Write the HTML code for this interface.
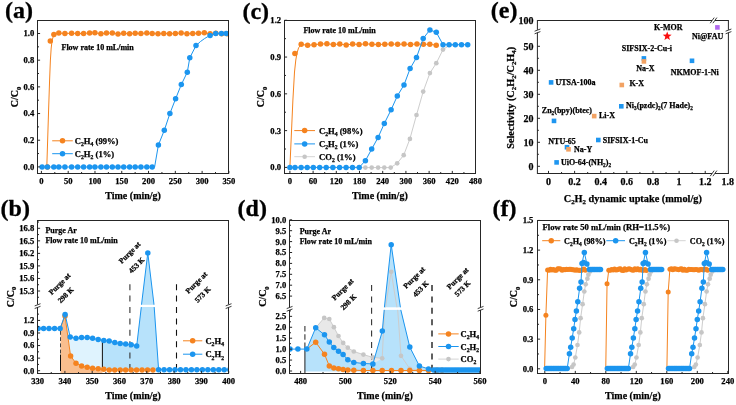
<!DOCTYPE html>
<html><head><meta charset="utf-8"><style>
html,body{margin:0;padding:0;background:#fff;}
svg{display:block;font-family:"Liberation Serif", serif;will-change:transform;}
</style></head><body>
<svg width="736" height="405" viewBox="0 0 736 405">
<defs><clipPath id="cA"><rect x="37.5" y="20.5" width="191" height="153"/></clipPath><clipPath id="cB"><rect x="37.5" y="220.5" width="191" height="153"/></clipPath><clipPath id="cC"><rect x="284.5" y="20.5" width="191" height="153"/></clipPath><clipPath id="cD"><rect x="289.5" y="220.5" width="191" height="153"/></clipPath><clipPath id="cF"><rect x="537.5" y="220.5" width="191" height="153"/></clipPath></defs>
<rect width="736" height="405" fill="#fff"/>
<g clip-path="url(#cA)">
<polyline points="46.8,167 48.6,110 49.6,80 50.4,60 51.2,48 52.2,40 53.9,34.5 58.8,33.09 64.9,33.45 71.6,33.24 77.7,33.52 83.6,33.55 89.6,32.88 94.9,32.82 100.9,33.8 106.5,33.11 112.3,33.08 118,33.99 123.7,33.36 129.6,33.8 135.2,33.37 140.9,33.57 146.8,32.98 152.2,33.56 157.99,33.84 163.78,33.43 169.57,33.69 175.36,33.61 181.15,32.88 186.94,33.71 192.73,33.51 198.52,33.16 204.31,32.84 210.1,33.84 215.89,33.37 221.68,33.66 227.47,33.85" fill="none" stroke="#f5831f" stroke-width="1.0" stroke-linejoin="round"/>
<circle cx="47.4" cy="167" r="2.75" fill="#f5831f"/>
<circle cx="50.3" cy="41.1" r="2.75" fill="#f5831f"/>
<circle cx="53.9" cy="34.5" r="2.75" fill="#f5831f"/>
<circle cx="58.8" cy="33.09" r="2.75" fill="#f5831f"/>
<circle cx="64.9" cy="33.45" r="2.75" fill="#f5831f"/>
<circle cx="71.6" cy="33.24" r="2.75" fill="#f5831f"/>
<circle cx="77.7" cy="33.52" r="2.75" fill="#f5831f"/>
<circle cx="83.6" cy="33.55" r="2.75" fill="#f5831f"/>
<circle cx="89.6" cy="32.88" r="2.75" fill="#f5831f"/>
<circle cx="94.9" cy="32.82" r="2.75" fill="#f5831f"/>
<circle cx="100.9" cy="33.8" r="2.75" fill="#f5831f"/>
<circle cx="106.5" cy="33.11" r="2.75" fill="#f5831f"/>
<circle cx="112.3" cy="33.08" r="2.75" fill="#f5831f"/>
<circle cx="118" cy="33.99" r="2.75" fill="#f5831f"/>
<circle cx="123.7" cy="33.36" r="2.75" fill="#f5831f"/>
<circle cx="129.6" cy="33.8" r="2.75" fill="#f5831f"/>
<circle cx="135.2" cy="33.37" r="2.75" fill="#f5831f"/>
<circle cx="140.9" cy="33.57" r="2.75" fill="#f5831f"/>
<circle cx="146.8" cy="32.98" r="2.75" fill="#f5831f"/>
<circle cx="152.2" cy="33.56" r="2.75" fill="#f5831f"/>
<circle cx="157.99" cy="33.84" r="2.75" fill="#f5831f"/>
<circle cx="163.78" cy="33.43" r="2.75" fill="#f5831f"/>
<circle cx="169.57" cy="33.69" r="2.75" fill="#f5831f"/>
<circle cx="175.36" cy="33.61" r="2.75" fill="#f5831f"/>
<circle cx="181.15" cy="32.88" r="2.75" fill="#f5831f"/>
<circle cx="186.94" cy="33.71" r="2.75" fill="#f5831f"/>
<circle cx="192.73" cy="33.51" r="2.75" fill="#f5831f"/>
<circle cx="198.52" cy="33.16" r="2.75" fill="#f5831f"/>
<circle cx="204.31" cy="32.84" r="2.75" fill="#f5831f"/>
<circle cx="210.1" cy="33.84" r="2.75" fill="#f5831f"/>
<circle cx="215.89" cy="33.37" r="2.75" fill="#f5831f"/>
<circle cx="221.68" cy="33.66" r="2.75" fill="#f5831f"/>
<circle cx="227.47" cy="33.85" r="2.75" fill="#f5831f"/>
<polyline points="42.1,167 47.4,167 53.8,167 58.8,167 64.9,167 71.6,167 77.7,167 83.6,167 89.6,167 94.9,167 100.9,167 106.5,167 112.3,167 118,167 123.7,167 129.6,167 135.2,167 140.9,167 146.8,167 152.2,167 154.6,167 158.4,145 164.3,130.3 169.9,113.5 175.6,98.8 181.3,84.6 187.3,72.2 189.8,57.7 196,45.6 200.5,41.5 204.5,38.6 207.5,36.8 210.1,35.5 215.7,33.6 221.4,33.4 226.2,33.4" fill="none" stroke="#1b95ef" stroke-width="1.0" stroke-linejoin="round"/>
<circle cx="42.1" cy="167" r="2.75" fill="#1b95ef"/>
<circle cx="47.4" cy="167" r="2.75" fill="#1b95ef"/>
<circle cx="53.8" cy="167" r="2.75" fill="#1b95ef"/>
<circle cx="58.8" cy="167" r="2.75" fill="#1b95ef"/>
<circle cx="64.9" cy="167" r="2.75" fill="#1b95ef"/>
<circle cx="71.6" cy="167" r="2.75" fill="#1b95ef"/>
<circle cx="77.7" cy="167" r="2.75" fill="#1b95ef"/>
<circle cx="83.6" cy="167" r="2.75" fill="#1b95ef"/>
<circle cx="89.6" cy="167" r="2.75" fill="#1b95ef"/>
<circle cx="94.9" cy="167" r="2.75" fill="#1b95ef"/>
<circle cx="100.9" cy="167" r="2.75" fill="#1b95ef"/>
<circle cx="106.5" cy="167" r="2.75" fill="#1b95ef"/>
<circle cx="112.3" cy="167" r="2.75" fill="#1b95ef"/>
<circle cx="118" cy="167" r="2.75" fill="#1b95ef"/>
<circle cx="123.7" cy="167" r="2.75" fill="#1b95ef"/>
<circle cx="129.6" cy="167" r="2.75" fill="#1b95ef"/>
<circle cx="135.2" cy="167" r="2.75" fill="#1b95ef"/>
<circle cx="140.9" cy="167" r="2.75" fill="#1b95ef"/>
<circle cx="146.8" cy="167" r="2.75" fill="#1b95ef"/>
<circle cx="152.2" cy="167" r="2.75" fill="#1b95ef"/>
<circle cx="158.4" cy="145" r="2.75" fill="#1b95ef"/>
<circle cx="164.3" cy="130.3" r="2.75" fill="#1b95ef"/>
<circle cx="169.9" cy="113.5" r="2.75" fill="#1b95ef"/>
<circle cx="175.6" cy="98.8" r="2.75" fill="#1b95ef"/>
<circle cx="181.3" cy="84.6" r="2.75" fill="#1b95ef"/>
<circle cx="187.3" cy="72.2" r="2.75" fill="#1b95ef"/>
<circle cx="189.8" cy="57.7" r="2.75" fill="#1b95ef"/>
<circle cx="196" cy="45.6" r="2.75" fill="#1b95ef"/>
<circle cx="210.1" cy="35.5" r="2.75" fill="#1b95ef"/>
<circle cx="215.7" cy="33.6" r="2.75" fill="#1b95ef"/>
<circle cx="221.4" cy="33.4" r="2.75" fill="#1b95ef"/>
<circle cx="226.2" cy="33.4" r="2.75" fill="#1b95ef"/>
</g>
<line x1="37.5" y1="20.5" x2="228.5" y2="20.5" stroke="#262626" stroke-width="1.0" stroke-linecap="butt"/>
<line x1="37.5" y1="173.5" x2="228.5" y2="173.5" stroke="#262626" stroke-width="1.0" stroke-linecap="butt"/>
<line x1="37.5" y1="20" x2="37.5" y2="174" stroke="#262626" stroke-width="1.0" stroke-linecap="butt"/>
<line x1="228.5" y1="20" x2="228.5" y2="174" stroke="#262626" stroke-width="1.0" stroke-linecap="butt"/>
<line x1="41.4" y1="173.5" x2="41.4" y2="170.9" stroke="#262626" stroke-width="1.0" stroke-linecap="butt"/>
<line x1="68.19" y1="173.5" x2="68.19" y2="170.9" stroke="#262626" stroke-width="1.0" stroke-linecap="butt"/>
<line x1="94.97" y1="173.5" x2="94.97" y2="170.9" stroke="#262626" stroke-width="1.0" stroke-linecap="butt"/>
<line x1="121.75" y1="173.5" x2="121.75" y2="170.9" stroke="#262626" stroke-width="1.0" stroke-linecap="butt"/>
<line x1="148.54" y1="173.5" x2="148.54" y2="170.9" stroke="#262626" stroke-width="1.0" stroke-linecap="butt"/>
<line x1="175.32" y1="173.5" x2="175.32" y2="170.9" stroke="#262626" stroke-width="1.0" stroke-linecap="butt"/>
<line x1="202.11" y1="173.5" x2="202.11" y2="170.9" stroke="#262626" stroke-width="1.0" stroke-linecap="butt"/>
<line x1="228.89" y1="173.5" x2="228.89" y2="170.9" stroke="#262626" stroke-width="1.0" stroke-linecap="butt"/>
<line x1="54.79" y1="173.5" x2="54.79" y2="172" stroke="#262626" stroke-width="1.0" stroke-linecap="butt"/>
<line x1="81.58" y1="173.5" x2="81.58" y2="172" stroke="#262626" stroke-width="1.0" stroke-linecap="butt"/>
<line x1="108.36" y1="173.5" x2="108.36" y2="172" stroke="#262626" stroke-width="1.0" stroke-linecap="butt"/>
<line x1="135.15" y1="173.5" x2="135.15" y2="172" stroke="#262626" stroke-width="1.0" stroke-linecap="butt"/>
<line x1="161.93" y1="173.5" x2="161.93" y2="172" stroke="#262626" stroke-width="1.0" stroke-linecap="butt"/>
<line x1="188.72" y1="173.5" x2="188.72" y2="172" stroke="#262626" stroke-width="1.0" stroke-linecap="butt"/>
<line x1="215.5" y1="173.5" x2="215.5" y2="172" stroke="#262626" stroke-width="1.0" stroke-linecap="butt"/>
<line x1="37.5" y1="166.9" x2="40.1" y2="166.9" stroke="#262626" stroke-width="1.0" stroke-linecap="butt"/>
<line x1="37.5" y1="140.22" x2="40.1" y2="140.22" stroke="#262626" stroke-width="1.0" stroke-linecap="butt"/>
<line x1="37.5" y1="113.54" x2="40.1" y2="113.54" stroke="#262626" stroke-width="1.0" stroke-linecap="butt"/>
<line x1="37.5" y1="86.86" x2="40.1" y2="86.86" stroke="#262626" stroke-width="1.0" stroke-linecap="butt"/>
<line x1="37.5" y1="60.18" x2="40.1" y2="60.18" stroke="#262626" stroke-width="1.0" stroke-linecap="butt"/>
<line x1="37.5" y1="33.5" x2="40.1" y2="33.5" stroke="#262626" stroke-width="1.0" stroke-linecap="butt"/>
<line x1="37.5" y1="153.56" x2="39" y2="153.56" stroke="#262626" stroke-width="1.0" stroke-linecap="butt"/>
<line x1="37.5" y1="126.88" x2="39" y2="126.88" stroke="#262626" stroke-width="1.0" stroke-linecap="butt"/>
<line x1="37.5" y1="100.2" x2="39" y2="100.2" stroke="#262626" stroke-width="1.0" stroke-linecap="butt"/>
<line x1="37.5" y1="73.52" x2="39" y2="73.52" stroke="#262626" stroke-width="1.0" stroke-linecap="butt"/>
<line x1="37.5" y1="46.84" x2="39" y2="46.84" stroke="#262626" stroke-width="1.0" stroke-linecap="butt"/>
<text x="41.4" y="183.7" font-size="8.6" text-anchor="middle" font-weight="bold" fill="#000" stroke="#000" stroke-width="0.25">0</text>
<text x="68.19" y="183.7" font-size="8.6" text-anchor="middle" font-weight="bold" fill="#000" stroke="#000" stroke-width="0.25">50</text>
<text x="94.97" y="183.7" font-size="8.6" text-anchor="middle" font-weight="bold" fill="#000" stroke="#000" stroke-width="0.25">100</text>
<text x="121.75" y="183.7" font-size="8.6" text-anchor="middle" font-weight="bold" fill="#000" stroke="#000" stroke-width="0.25">150</text>
<text x="148.54" y="183.7" font-size="8.6" text-anchor="middle" font-weight="bold" fill="#000" stroke="#000" stroke-width="0.25">200</text>
<text x="175.32" y="183.7" font-size="8.6" text-anchor="middle" font-weight="bold" fill="#000" stroke="#000" stroke-width="0.25">250</text>
<text x="202.11" y="183.7" font-size="8.6" text-anchor="middle" font-weight="bold" fill="#000" stroke="#000" stroke-width="0.25">300</text>
<text x="228.89" y="183.7" font-size="8.6" text-anchor="middle" font-weight="bold" fill="#000" stroke="#000" stroke-width="0.25">350</text>
<text x="34.3" y="169.82" font-size="8.6" text-anchor="end" font-weight="bold" fill="#000" stroke="#000" stroke-width="0.25">0.0</text>
<text x="34.3" y="143.14" font-size="8.6" text-anchor="end" font-weight="bold" fill="#000" stroke="#000" stroke-width="0.25">0.2</text>
<text x="34.3" y="116.46" font-size="8.6" text-anchor="end" font-weight="bold" fill="#000" stroke="#000" stroke-width="0.25">0.4</text>
<text x="34.3" y="89.78" font-size="8.6" text-anchor="end" font-weight="bold" fill="#000" stroke="#000" stroke-width="0.25">0.6</text>
<text x="34.3" y="63.1" font-size="8.6" text-anchor="end" font-weight="bold" fill="#000" stroke="#000" stroke-width="0.25">0.8</text>
<text x="34.3" y="36.42" font-size="8.6" text-anchor="end" font-weight="bold" fill="#000" stroke="#000" stroke-width="0.25">1.0</text>
<text x="133.1" y="199.1" font-size="10" text-anchor="middle" font-weight="bold" fill="#000" stroke="#000" stroke-width="0.25">Time (min/g)</text>
<text x="17.9" y="96.9" font-size="10" text-anchor="middle" font-weight="bold" fill="#000" stroke="#000" stroke-width="0.25" transform="rotate(-90 17.9 96.9)">C/C<tspan font-size="6.6" dy="2.7">0</tspan><tspan dy="-2.7">​</tspan></text>
<text x="5" y="18" font-size="24" text-anchor="start" font-weight="bold" fill="#000" stroke="#000" stroke-width="0.3">(a)</text>
<text x="61.5" y="50.2" font-size="8" text-anchor="start" font-weight="bold" fill="#000" stroke="#000" stroke-width="0.25">Flow rate 10 mL/min</text>
<line x1="52.2" y1="140.8" x2="72.8" y2="140.8" stroke="#f5831f" stroke-width="1.0" stroke-linecap="butt"/>
<circle cx="62.5" cy="140.8" r="2.75" fill="#f5831f"/>
<text x="74.8" y="143.8" font-size="8.6" text-anchor="start" font-weight="bold" fill="#000" stroke="#000" stroke-width="0.25">C<tspan font-size="5.68" dy="2.32">2</tspan><tspan dy="-2.32">​</tspan>H<tspan font-size="5.68" dy="2.32">4</tspan><tspan dy="-2.32">​</tspan> (99%)</text>
<line x1="52.2" y1="153.7" x2="72.8" y2="153.7" stroke="#1b95ef" stroke-width="1.0" stroke-linecap="butt"/>
<circle cx="62.5" cy="153.7" r="2.75" fill="#1b95ef"/>
<text x="74.8" y="156.7" font-size="8.6" text-anchor="start" font-weight="bold" fill="#000" stroke="#000" stroke-width="0.25">C<tspan font-size="5.68" dy="2.32">2</tspan><tspan dy="-2.32">​</tspan>H<tspan font-size="5.68" dy="2.32">2</tspan><tspan dy="-2.32">​</tspan> (1%)</text>
<g clip-path="url(#cB)">
<polygon points="60.5,372.9 60.5,328.6 65,316 70.6,356 76,363.2 81.6,365.9 87.2,367.3 92.6,368.2 98.2,368.8 102.4,369.2 102.4,372.9" fill="#f9be8e" stroke="none"/>
<polygon points="65.1,314.4 70.2,337 76,338.3 81.6,337.6 87.2,337.6 92.6,338.3 98.2,339.6 102.4,340.2 102.4,369.2 98.2,368.8 92.6,368.2 87.2,367.3 81.6,365.9 76,363.2 70.6,356 65,316" fill="#dff3fe" stroke="none"/>
<polygon points="102.4,340.2 103.8,340.4 109.2,341.1 114.8,342.6 120.2,343.4 125.7,344.1 131.2,344.7 136.7,345.9 141.3,305.9 147.8,252.9 154.2,305.9 158.6,369.7 158.6,370.5 102.4,370.5" fill="#b7e2fb" stroke="none"/>
<rect x="139" y="304.8" width="18" height="2.2" fill="#fff"/>
<line x1="60.5" y1="331" x2="60.5" y2="354.6" stroke="#444" stroke-width="1.0" stroke-linecap="butt" stroke-dasharray="3.8,2.4"/>
<line x1="60.5" y1="354.6" x2="60.5" y2="371" stroke="#111" stroke-width="1.0" stroke-linecap="butt"/>
<line x1="102.4" y1="340.2" x2="102.4" y2="370.8" stroke="#111" stroke-width="1.0" stroke-linecap="butt"/>
<line x1="129.9" y1="284.2" x2="129.9" y2="372.9" stroke="#333" stroke-width="1.1" stroke-linecap="butt" stroke-dasharray="6,5.4"/>
<line x1="176.5" y1="284.2" x2="176.5" y2="372.9" stroke="#111" stroke-width="1.1" stroke-linecap="butt" stroke-dasharray="6,5.4"/>
<polyline points="60.1,328.6 65,316 70.6,356 76,363.2 81.6,365.9 87.2,367.3 92.6,368.2 98.2,368.8 103.8,369.3 109.26,369.9 114.72,369.9 120.18,369.9 125.64,369.9 131.1,369.9 136.56,369.9 142.02,369.9 147.48,369.9 152.94,369.9" fill="none" stroke="#f5831f" stroke-width="1.0" stroke-linejoin="round"/>
<circle cx="65" cy="316" r="2.75" fill="#f5831f"/>
<circle cx="70.6" cy="356" r="2.75" fill="#f5831f"/>
<circle cx="76" cy="363.2" r="2.75" fill="#f5831f"/>
<circle cx="81.6" cy="365.9" r="2.75" fill="#f5831f"/>
<circle cx="87.2" cy="367.3" r="2.75" fill="#f5831f"/>
<circle cx="92.6" cy="368.2" r="2.75" fill="#f5831f"/>
<circle cx="98.2" cy="368.8" r="2.75" fill="#f5831f"/>
<circle cx="103.8" cy="369.3" r="2.75" fill="#f5831f"/>
<circle cx="109.26" cy="369.9" r="2.75" fill="#f5831f"/>
<circle cx="114.72" cy="369.9" r="2.75" fill="#f5831f"/>
<circle cx="120.18" cy="369.9" r="2.75" fill="#f5831f"/>
<circle cx="125.64" cy="369.9" r="2.75" fill="#f5831f"/>
<circle cx="131.1" cy="369.9" r="2.75" fill="#f5831f"/>
<circle cx="136.56" cy="369.9" r="2.75" fill="#f5831f"/>
<circle cx="142.02" cy="369.9" r="2.75" fill="#f5831f"/>
<circle cx="147.48" cy="369.9" r="2.75" fill="#f5831f"/>
<circle cx="152.94" cy="369.9" r="2.75" fill="#f5831f"/>
<polyline points="38.2,328.6 43.6,328.6 49,328.6 54.6,328.6 60.1,328.6 65.1,314.4 70.2,337 76,338.3 81.6,337.6 87.2,337.6 92.6,338.3 98.2,339.6 103.8,340.4 109.2,341.1 114.8,342.6 120.2,343.4 125.7,344.1 131.2,344.7 136.7,345.9 141.3,307.1" fill="none" stroke="#1b95ef" stroke-width="1.0" stroke-linejoin="round"/>
<polyline points="141.5,304.7 147.8,252.9 154,304.7" fill="none" stroke="#1b95ef" stroke-width="1.0" stroke-linejoin="round"/>
<polyline points="154.2,307.1 158.6,369.7 164.07,369.7 169.54,369.7 175.01,369.7 180.48,369.7 185.95,369.7 191.42,369.7 196.89,369.7 202.36,369.7 207.83,369.7 213.3,369.7 218.77,369.7 224.24,369.7 229.71,369.7" fill="none" stroke="#1b95ef" stroke-width="1.0" stroke-linejoin="round"/>
<circle cx="38.2" cy="328.6" r="2.75" fill="#1b95ef"/>
<circle cx="43.6" cy="328.6" r="2.75" fill="#1b95ef"/>
<circle cx="49" cy="328.6" r="2.75" fill="#1b95ef"/>
<circle cx="54.6" cy="328.6" r="2.75" fill="#1b95ef"/>
<circle cx="60.1" cy="328.6" r="2.75" fill="#1b95ef"/>
<circle cx="65.1" cy="314.4" r="2.75" fill="#1b95ef"/>
<circle cx="70.2" cy="337" r="2.75" fill="#1b95ef"/>
<circle cx="76" cy="338.3" r="2.75" fill="#1b95ef"/>
<circle cx="81.6" cy="337.6" r="2.75" fill="#1b95ef"/>
<circle cx="87.2" cy="337.6" r="2.75" fill="#1b95ef"/>
<circle cx="92.6" cy="338.3" r="2.75" fill="#1b95ef"/>
<circle cx="98.2" cy="339.6" r="2.75" fill="#1b95ef"/>
<circle cx="103.8" cy="340.4" r="2.75" fill="#1b95ef"/>
<circle cx="109.2" cy="341.1" r="2.75" fill="#1b95ef"/>
<circle cx="114.8" cy="342.6" r="2.75" fill="#1b95ef"/>
<circle cx="120.2" cy="343.4" r="2.75" fill="#1b95ef"/>
<circle cx="125.7" cy="344.1" r="2.75" fill="#1b95ef"/>
<circle cx="131.2" cy="344.7" r="2.75" fill="#1b95ef"/>
<circle cx="136.7" cy="345.9" r="2.75" fill="#1b95ef"/>
<circle cx="147.8" cy="252.9" r="2.75" fill="#1b95ef"/>
<circle cx="158.6" cy="369.7" r="2.75" fill="#1b95ef"/>
<circle cx="164.07" cy="369.7" r="2.75" fill="#1b95ef"/>
<circle cx="169.54" cy="369.7" r="2.75" fill="#1b95ef"/>
<circle cx="175.01" cy="369.7" r="2.75" fill="#1b95ef"/>
<circle cx="180.48" cy="369.7" r="2.75" fill="#1b95ef"/>
<circle cx="185.95" cy="369.7" r="2.75" fill="#1b95ef"/>
<circle cx="191.42" cy="369.7" r="2.75" fill="#1b95ef"/>
<circle cx="196.89" cy="369.7" r="2.75" fill="#1b95ef"/>
<circle cx="202.36" cy="369.7" r="2.75" fill="#1b95ef"/>
<circle cx="207.83" cy="369.7" r="2.75" fill="#1b95ef"/>
<circle cx="213.3" cy="369.7" r="2.75" fill="#1b95ef"/>
<circle cx="218.77" cy="369.7" r="2.75" fill="#1b95ef"/>
<circle cx="224.24" cy="369.7" r="2.75" fill="#1b95ef"/>
<circle cx="229.71" cy="369.7" r="2.75" fill="#1b95ef"/>
</g>
<line x1="37.5" y1="220.5" x2="228.5" y2="220.5" stroke="#262626" stroke-width="1.0" stroke-linecap="butt"/>
<line x1="37.5" y1="373.5" x2="228.5" y2="373.5" stroke="#262626" stroke-width="1.0" stroke-linecap="butt"/>
<line x1="37.5" y1="220" x2="37.5" y2="304.6" stroke="#262626" stroke-width="1.0" stroke-linecap="butt"/>
<line x1="37.5" y1="307.2" x2="37.5" y2="374" stroke="#262626" stroke-width="1.0" stroke-linecap="butt"/>
<line x1="228.5" y1="220" x2="228.5" y2="304.6" stroke="#262626" stroke-width="1.0" stroke-linecap="butt"/>
<line x1="228.5" y1="307.2" x2="228.5" y2="374" stroke="#262626" stroke-width="1.0" stroke-linecap="butt"/>
<rect x="34.5" y="304.7" width="6" height="2.4" fill="#fff"/>
<line x1="34.7" y1="305.9" x2="40.5" y2="303.7" stroke="#262626" stroke-width="0.9" stroke-linecap="butt"/>
<line x1="34.7" y1="308.5" x2="40.5" y2="306.3" stroke="#262626" stroke-width="0.9" stroke-linecap="butt"/>
<rect x="225.5" y="304.7" width="6" height="2.4" fill="#fff"/>
<line x1="225.7" y1="305.9" x2="231.5" y2="303.7" stroke="#262626" stroke-width="0.9" stroke-linecap="butt"/>
<line x1="225.7" y1="308.5" x2="231.5" y2="306.3" stroke="#262626" stroke-width="0.9" stroke-linecap="butt"/>
<line x1="37.6" y1="373.5" x2="37.6" y2="370.9" stroke="#262626" stroke-width="1.0" stroke-linecap="butt"/>
<line x1="64.9" y1="373.5" x2="64.9" y2="370.9" stroke="#262626" stroke-width="1.0" stroke-linecap="butt"/>
<line x1="92.2" y1="373.5" x2="92.2" y2="370.9" stroke="#262626" stroke-width="1.0" stroke-linecap="butt"/>
<line x1="119.5" y1="373.5" x2="119.5" y2="370.9" stroke="#262626" stroke-width="1.0" stroke-linecap="butt"/>
<line x1="146.8" y1="373.5" x2="146.8" y2="370.9" stroke="#262626" stroke-width="1.0" stroke-linecap="butt"/>
<line x1="174.1" y1="373.5" x2="174.1" y2="370.9" stroke="#262626" stroke-width="1.0" stroke-linecap="butt"/>
<line x1="201.4" y1="373.5" x2="201.4" y2="370.9" stroke="#262626" stroke-width="1.0" stroke-linecap="butt"/>
<line x1="228.7" y1="373.5" x2="228.7" y2="370.9" stroke="#262626" stroke-width="1.0" stroke-linecap="butt"/>
<line x1="51.25" y1="373.5" x2="51.25" y2="372" stroke="#262626" stroke-width="1.0" stroke-linecap="butt"/>
<line x1="78.55" y1="373.5" x2="78.55" y2="372" stroke="#262626" stroke-width="1.0" stroke-linecap="butt"/>
<line x1="105.85" y1="373.5" x2="105.85" y2="372" stroke="#262626" stroke-width="1.0" stroke-linecap="butt"/>
<line x1="133.15" y1="373.5" x2="133.15" y2="372" stroke="#262626" stroke-width="1.0" stroke-linecap="butt"/>
<line x1="160.45" y1="373.5" x2="160.45" y2="372" stroke="#262626" stroke-width="1.0" stroke-linecap="butt"/>
<line x1="187.75" y1="373.5" x2="187.75" y2="372" stroke="#262626" stroke-width="1.0" stroke-linecap="butt"/>
<line x1="215.05" y1="373.5" x2="215.05" y2="372" stroke="#262626" stroke-width="1.0" stroke-linecap="butt"/>
<line x1="37.5" y1="291" x2="40.1" y2="291" stroke="#262626" stroke-width="1.0" stroke-linecap="butt"/>
<line x1="37.5" y1="278.46" x2="40.1" y2="278.46" stroke="#262626" stroke-width="1.0" stroke-linecap="butt"/>
<line x1="37.5" y1="265.92" x2="40.1" y2="265.92" stroke="#262626" stroke-width="1.0" stroke-linecap="butt"/>
<line x1="37.5" y1="253.38" x2="40.1" y2="253.38" stroke="#262626" stroke-width="1.0" stroke-linecap="butt"/>
<line x1="37.5" y1="240.84" x2="40.1" y2="240.84" stroke="#262626" stroke-width="1.0" stroke-linecap="butt"/>
<line x1="37.5" y1="228.3" x2="40.1" y2="228.3" stroke="#262626" stroke-width="1.0" stroke-linecap="butt"/>
<line x1="37.5" y1="297.27" x2="39" y2="297.27" stroke="#262626" stroke-width="1.0" stroke-linecap="butt"/>
<line x1="37.5" y1="284.73" x2="39" y2="284.73" stroke="#262626" stroke-width="1.0" stroke-linecap="butt"/>
<line x1="37.5" y1="272.19" x2="39" y2="272.19" stroke="#262626" stroke-width="1.0" stroke-linecap="butt"/>
<line x1="37.5" y1="259.65" x2="39" y2="259.65" stroke="#262626" stroke-width="1.0" stroke-linecap="butt"/>
<line x1="37.5" y1="247.11" x2="39" y2="247.11" stroke="#262626" stroke-width="1.0" stroke-linecap="butt"/>
<line x1="37.5" y1="234.57" x2="39" y2="234.57" stroke="#262626" stroke-width="1.0" stroke-linecap="butt"/>
<line x1="37.5" y1="222.03" x2="39" y2="222.03" stroke="#262626" stroke-width="1.0" stroke-linecap="butt"/>
<line x1="37.5" y1="370.7" x2="40.1" y2="370.7" stroke="#262626" stroke-width="1.0" stroke-linecap="butt"/>
<line x1="37.5" y1="358.13" x2="40.1" y2="358.13" stroke="#262626" stroke-width="1.0" stroke-linecap="butt"/>
<line x1="37.5" y1="345.56" x2="40.1" y2="345.56" stroke="#262626" stroke-width="1.0" stroke-linecap="butt"/>
<line x1="37.5" y1="332.99" x2="40.1" y2="332.99" stroke="#262626" stroke-width="1.0" stroke-linecap="butt"/>
<line x1="37.5" y1="320.42" x2="40.1" y2="320.42" stroke="#262626" stroke-width="1.0" stroke-linecap="butt"/>
<line x1="37.5" y1="364.41" x2="39" y2="364.41" stroke="#262626" stroke-width="1.0" stroke-linecap="butt"/>
<line x1="37.5" y1="351.84" x2="39" y2="351.84" stroke="#262626" stroke-width="1.0" stroke-linecap="butt"/>
<line x1="37.5" y1="339.27" x2="39" y2="339.27" stroke="#262626" stroke-width="1.0" stroke-linecap="butt"/>
<line x1="37.5" y1="326.7" x2="39" y2="326.7" stroke="#262626" stroke-width="1.0" stroke-linecap="butt"/>
<line x1="37.5" y1="314.13" x2="39" y2="314.13" stroke="#262626" stroke-width="1.0" stroke-linecap="butt"/>
<text x="37.6" y="384" font-size="8.6" text-anchor="middle" font-weight="bold" fill="#000" stroke="#000" stroke-width="0.25">330</text>
<text x="64.9" y="384" font-size="8.6" text-anchor="middle" font-weight="bold" fill="#000" stroke="#000" stroke-width="0.25">340</text>
<text x="92.2" y="384" font-size="8.6" text-anchor="middle" font-weight="bold" fill="#000" stroke="#000" stroke-width="0.25">350</text>
<text x="119.5" y="384" font-size="8.6" text-anchor="middle" font-weight="bold" fill="#000" stroke="#000" stroke-width="0.25">360</text>
<text x="146.8" y="384" font-size="8.6" text-anchor="middle" font-weight="bold" fill="#000" stroke="#000" stroke-width="0.25">370</text>
<text x="174.1" y="384" font-size="8.6" text-anchor="middle" font-weight="bold" fill="#000" stroke="#000" stroke-width="0.25">380</text>
<text x="201.4" y="384" font-size="8.6" text-anchor="middle" font-weight="bold" fill="#000" stroke="#000" stroke-width="0.25">390</text>
<text x="228.7" y="384" font-size="8.6" text-anchor="middle" font-weight="bold" fill="#000" stroke="#000" stroke-width="0.25">400</text>
<text x="34.3" y="293.92" font-size="8.6" text-anchor="end" font-weight="bold" fill="#000" stroke="#000" stroke-width="0.25">15.3</text>
<text x="34.3" y="281.38" font-size="8.6" text-anchor="end" font-weight="bold" fill="#000" stroke="#000" stroke-width="0.25">15.6</text>
<text x="34.3" y="268.84" font-size="8.6" text-anchor="end" font-weight="bold" fill="#000" stroke="#000" stroke-width="0.25">15.9</text>
<text x="34.3" y="256.3" font-size="8.6" text-anchor="end" font-weight="bold" fill="#000" stroke="#000" stroke-width="0.25">16.2</text>
<text x="34.3" y="243.76" font-size="8.6" text-anchor="end" font-weight="bold" fill="#000" stroke="#000" stroke-width="0.25">16.5</text>
<text x="34.3" y="231.22" font-size="8.6" text-anchor="end" font-weight="bold" fill="#000" stroke="#000" stroke-width="0.25">16.8</text>
<text x="34.3" y="373.62" font-size="8.6" text-anchor="end" font-weight="bold" fill="#000" stroke="#000" stroke-width="0.25">0.0</text>
<text x="34.3" y="361.05" font-size="8.6" text-anchor="end" font-weight="bold" fill="#000" stroke="#000" stroke-width="0.25">0.3</text>
<text x="34.3" y="348.48" font-size="8.6" text-anchor="end" font-weight="bold" fill="#000" stroke="#000" stroke-width="0.25">0.6</text>
<text x="34.3" y="335.91" font-size="8.6" text-anchor="end" font-weight="bold" fill="#000" stroke="#000" stroke-width="0.25">0.9</text>
<text x="34.3" y="323.34" font-size="8.6" text-anchor="end" font-weight="bold" fill="#000" stroke="#000" stroke-width="0.25">1.2</text>
<text x="133.1" y="399.3" font-size="10" text-anchor="middle" font-weight="bold" fill="#000" stroke="#000" stroke-width="0.25">Time (min/g)</text>
<text x="13.8" y="296.9" font-size="10" text-anchor="middle" font-weight="bold" fill="#000" stroke="#000" stroke-width="0.25" transform="rotate(-90 13.8 296.9)">C/C<tspan font-size="6.6" dy="2.7">0</tspan><tspan dy="-2.7">​</tspan></text>
<text x="0.6" y="215.9" font-size="24" text-anchor="start" font-weight="bold" fill="#000" stroke="#000" stroke-width="0.3">(b)</text>
<text x="45.4" y="232.9" font-size="8" text-anchor="start" font-weight="bold" fill="#000" stroke="#000" stroke-width="0.25">Purge Ar</text>
<text x="45.4" y="243.3" font-size="8" text-anchor="start" font-weight="bold" fill="#000" stroke="#000" stroke-width="0.25">Flow rate 10 mL/min</text>
<text x="61.4" y="285.7" font-size="7.5" text-anchor="middle" font-weight="bold" fill="#000" stroke="#000" stroke-width="0.25" transform="rotate(-45 61.4 285.7)">Purge at</text>
<text x="67.4" y="296.9" font-size="7.5" text-anchor="middle" font-weight="bold" fill="#000" stroke="#000" stroke-width="0.25" transform="rotate(-45 67.4 296.9)">298 K</text>
<text x="131.4" y="254.4" font-size="7.5" text-anchor="middle" font-weight="bold" fill="#000" stroke="#000" stroke-width="0.25" transform="rotate(-45 131.4 254.4)">Purge at</text>
<text x="138.3" y="267" font-size="7.5" text-anchor="middle" font-weight="bold" fill="#000" stroke="#000" stroke-width="0.25" transform="rotate(-45 138.3 267)">453 K</text>
<text x="198.1" y="284.4" font-size="7.5" text-anchor="middle" font-weight="bold" fill="#000" stroke="#000" stroke-width="0.25" transform="rotate(-45 198.1 284.4)">Purge at</text>
<text x="204.4" y="296.3" font-size="7.5" text-anchor="middle" font-weight="bold" fill="#000" stroke="#000" stroke-width="0.25" transform="rotate(-45 204.4 296.3)">573 K</text>
<line x1="183" y1="340.8" x2="202.3" y2="340.8" stroke="#f5831f" stroke-width="1.0" stroke-linecap="butt"/>
<circle cx="192.65" cy="340.8" r="2.75" fill="#f5831f"/>
<text x="205.4" y="343.8" font-size="8.6" text-anchor="start" font-weight="bold" fill="#000" stroke="#000" stroke-width="0.25">C<tspan font-size="5.68" dy="2.32">2</tspan><tspan dy="-2.32">​</tspan>H<tspan font-size="5.68" dy="2.32">4</tspan><tspan dy="-2.32">​</tspan></text>
<line x1="183" y1="354.2" x2="202.3" y2="354.2" stroke="#1b95ef" stroke-width="1.0" stroke-linecap="butt"/>
<circle cx="192.65" cy="354.2" r="2.75" fill="#1b95ef"/>
<text x="205.4" y="357.2" font-size="8.6" text-anchor="start" font-weight="bold" fill="#000" stroke="#000" stroke-width="0.25">C<tspan font-size="5.68" dy="2.32">2</tspan><tspan dy="-2.32">​</tspan>H<tspan font-size="5.68" dy="2.32">2</tspan><tspan dy="-2.32">​</tspan></text>
<g clip-path="url(#cC)">
<polyline points="289.9,167.4 292.9,100 294.5,72 295.8,60 297,53 298.6,47.8 301.2,44.3 307.63,45.3 314.06,44.7 320.49,44 326.92,43.8 333.35,44.5 339.78,44 346.21,45 352.64,44 359.07,44.5 365.5,43.8 371.93,44.3 378.36,44.5 384.79,44.2 391.22,44 397.65,44.3 404.08,44.1 410.51,44.4 416.94,44 423.37,44.3 429.8,44.2 436.23,45.2" fill="none" stroke="#f5831f" stroke-width="1.0" stroke-linejoin="round"/>
<circle cx="294.9" cy="53.6" r="2.75" fill="#f5831f"/>
<circle cx="301.2" cy="44.3" r="2.75" fill="#f5831f"/>
<circle cx="307.63" cy="45.3" r="2.75" fill="#f5831f"/>
<circle cx="314.06" cy="44.7" r="2.75" fill="#f5831f"/>
<circle cx="320.49" cy="44" r="2.75" fill="#f5831f"/>
<circle cx="326.92" cy="43.8" r="2.75" fill="#f5831f"/>
<circle cx="333.35" cy="44.5" r="2.75" fill="#f5831f"/>
<circle cx="339.78" cy="44" r="2.75" fill="#f5831f"/>
<circle cx="346.21" cy="45" r="2.75" fill="#f5831f"/>
<circle cx="352.64" cy="44" r="2.75" fill="#f5831f"/>
<circle cx="359.07" cy="44.5" r="2.75" fill="#f5831f"/>
<circle cx="365.5" cy="43.8" r="2.75" fill="#f5831f"/>
<circle cx="371.93" cy="44.3" r="2.75" fill="#f5831f"/>
<circle cx="378.36" cy="44.5" r="2.75" fill="#f5831f"/>
<circle cx="384.79" cy="44.2" r="2.75" fill="#f5831f"/>
<circle cx="391.22" cy="44" r="2.75" fill="#f5831f"/>
<circle cx="397.65" cy="44.3" r="2.75" fill="#f5831f"/>
<circle cx="404.08" cy="44.1" r="2.75" fill="#f5831f"/>
<circle cx="410.51" cy="44.4" r="2.75" fill="#f5831f"/>
<circle cx="416.94" cy="44" r="2.75" fill="#f5831f"/>
<circle cx="423.37" cy="44.3" r="2.75" fill="#f5831f"/>
<circle cx="429.8" cy="44.2" r="2.75" fill="#f5831f"/>
<circle cx="436.23" cy="45.2" r="2.75" fill="#f5831f"/>
<polyline points="359.2,167.6 365.4,167.6 371.7,167.6 378.1,167.6 384.3,167.6 390.7,167.6 397.2,163.3 403.7,155.2 409.9,138.9 416.5,115 423.2,91.6 429.9,73.1 436.3,63.2 443,49.6 449.1,45.5 455.3,44.9" fill="none" stroke="#cdcdcd" stroke-width="1.0" stroke-linejoin="round"/>
<circle cx="365.4" cy="167.6" r="2.35" fill="#c6c6c6"/>
<circle cx="371.7" cy="167.6" r="2.35" fill="#c6c6c6"/>
<circle cx="378.1" cy="167.6" r="2.35" fill="#c6c6c6"/>
<circle cx="384.3" cy="167.6" r="2.35" fill="#c6c6c6"/>
<circle cx="390.7" cy="167.6" r="2.35" fill="#c6c6c6"/>
<circle cx="397.2" cy="163.3" r="2.35" fill="#c6c6c6"/>
<circle cx="403.7" cy="155.2" r="2.35" fill="#c6c6c6"/>
<circle cx="409.9" cy="138.9" r="2.35" fill="#c6c6c6"/>
<circle cx="416.5" cy="115" r="2.35" fill="#c6c6c6"/>
<circle cx="423.2" cy="91.6" r="2.35" fill="#c6c6c6"/>
<circle cx="429.9" cy="73.1" r="2.35" fill="#c6c6c6"/>
<circle cx="436.3" cy="63.2" r="2.35" fill="#c6c6c6"/>
<circle cx="443" cy="49.6" r="2.35" fill="#c6c6c6"/>
<polyline points="289.9,167.4 295,167.4 301.1,167.4 307.2,167.4 313.3,167.4 319.7,167.4 326.2,167.4 332.9,167.4 339.6,167.4 346.1,167.4 352.5,167.4 359.2,167.4 365.4,160.7 371.7,149.1 378.1,137.4 384.3,123.5 391.1,109.8 397.3,96 404,84.9 410.1,68.6 416.5,57.5 423.2,38.5 429.9,29.9 436.3,32.3 443,44.7 449.1,44.7 455.3,44.7 461.5,44.7 467.7,44.7" fill="none" stroke="#1b95ef" stroke-width="1.0" stroke-linejoin="round"/>
<circle cx="289.9" cy="167.4" r="2.75" fill="#1b95ef"/>
<circle cx="295" cy="167.4" r="2.75" fill="#1b95ef"/>
<circle cx="301.1" cy="167.4" r="2.75" fill="#1b95ef"/>
<circle cx="307.2" cy="167.4" r="2.75" fill="#1b95ef"/>
<circle cx="313.3" cy="167.4" r="2.75" fill="#1b95ef"/>
<circle cx="319.7" cy="167.4" r="2.75" fill="#1b95ef"/>
<circle cx="326.2" cy="167.4" r="2.75" fill="#1b95ef"/>
<circle cx="332.9" cy="167.4" r="2.75" fill="#1b95ef"/>
<circle cx="339.6" cy="167.4" r="2.75" fill="#1b95ef"/>
<circle cx="346.1" cy="167.4" r="2.75" fill="#1b95ef"/>
<circle cx="352.5" cy="167.4" r="2.75" fill="#1b95ef"/>
<circle cx="359.2" cy="167.4" r="2.75" fill="#1b95ef"/>
<circle cx="365.4" cy="160.7" r="2.75" fill="#1b95ef"/>
<circle cx="371.7" cy="149.1" r="2.75" fill="#1b95ef"/>
<circle cx="378.1" cy="137.4" r="2.75" fill="#1b95ef"/>
<circle cx="384.3" cy="123.5" r="2.75" fill="#1b95ef"/>
<circle cx="391.1" cy="109.8" r="2.75" fill="#1b95ef"/>
<circle cx="397.3" cy="96" r="2.75" fill="#1b95ef"/>
<circle cx="404" cy="84.9" r="2.75" fill="#1b95ef"/>
<circle cx="410.1" cy="68.6" r="2.75" fill="#1b95ef"/>
<circle cx="416.5" cy="57.5" r="2.75" fill="#1b95ef"/>
<circle cx="423.2" cy="38.5" r="2.75" fill="#1b95ef"/>
<circle cx="429.9" cy="29.9" r="2.75" fill="#1b95ef"/>
<circle cx="436.3" cy="32.3" r="2.75" fill="#1b95ef"/>
<circle cx="443" cy="44.7" r="2.75" fill="#1b95ef"/>
<circle cx="449.1" cy="44.7" r="2.75" fill="#1b95ef"/>
<circle cx="455.3" cy="44.7" r="2.75" fill="#1b95ef"/>
<circle cx="461.5" cy="44.7" r="2.75" fill="#1b95ef"/>
<circle cx="467.7" cy="44.7" r="2.75" fill="#1b95ef"/>
</g>
<line x1="284.5" y1="20.5" x2="475.5" y2="20.5" stroke="#262626" stroke-width="1.0" stroke-linecap="butt"/>
<line x1="284.5" y1="173.5" x2="475.5" y2="173.5" stroke="#262626" stroke-width="1.0" stroke-linecap="butt"/>
<line x1="284.5" y1="20" x2="284.5" y2="174" stroke="#262626" stroke-width="1.0" stroke-linecap="butt"/>
<line x1="475.5" y1="20" x2="475.5" y2="174" stroke="#262626" stroke-width="1.0" stroke-linecap="butt"/>
<line x1="289.9" y1="173.5" x2="289.9" y2="170.9" stroke="#262626" stroke-width="1.0" stroke-linecap="butt"/>
<line x1="313.1" y1="173.5" x2="313.1" y2="170.9" stroke="#262626" stroke-width="1.0" stroke-linecap="butt"/>
<line x1="336.3" y1="173.5" x2="336.3" y2="170.9" stroke="#262626" stroke-width="1.0" stroke-linecap="butt"/>
<line x1="359.51" y1="173.5" x2="359.51" y2="170.9" stroke="#262626" stroke-width="1.0" stroke-linecap="butt"/>
<line x1="382.71" y1="173.5" x2="382.71" y2="170.9" stroke="#262626" stroke-width="1.0" stroke-linecap="butt"/>
<line x1="405.91" y1="173.5" x2="405.91" y2="170.9" stroke="#262626" stroke-width="1.0" stroke-linecap="butt"/>
<line x1="429.11" y1="173.5" x2="429.11" y2="170.9" stroke="#262626" stroke-width="1.0" stroke-linecap="butt"/>
<line x1="452.31" y1="173.5" x2="452.31" y2="170.9" stroke="#262626" stroke-width="1.0" stroke-linecap="butt"/>
<line x1="475.52" y1="173.5" x2="475.52" y2="170.9" stroke="#262626" stroke-width="1.0" stroke-linecap="butt"/>
<line x1="301.5" y1="173.5" x2="301.5" y2="172" stroke="#262626" stroke-width="1.0" stroke-linecap="butt"/>
<line x1="324.7" y1="173.5" x2="324.7" y2="172" stroke="#262626" stroke-width="1.0" stroke-linecap="butt"/>
<line x1="347.9" y1="173.5" x2="347.9" y2="172" stroke="#262626" stroke-width="1.0" stroke-linecap="butt"/>
<line x1="371.11" y1="173.5" x2="371.11" y2="172" stroke="#262626" stroke-width="1.0" stroke-linecap="butt"/>
<line x1="394.31" y1="173.5" x2="394.31" y2="172" stroke="#262626" stroke-width="1.0" stroke-linecap="butt"/>
<line x1="417.51" y1="173.5" x2="417.51" y2="172" stroke="#262626" stroke-width="1.0" stroke-linecap="butt"/>
<line x1="440.71" y1="173.5" x2="440.71" y2="172" stroke="#262626" stroke-width="1.0" stroke-linecap="butt"/>
<line x1="463.91" y1="173.5" x2="463.91" y2="172" stroke="#262626" stroke-width="1.0" stroke-linecap="butt"/>
<line x1="284.5" y1="167.4" x2="287.1" y2="167.4" stroke="#262626" stroke-width="1.0" stroke-linecap="butt"/>
<line x1="284.5" y1="130.62" x2="287.1" y2="130.62" stroke="#262626" stroke-width="1.0" stroke-linecap="butt"/>
<line x1="284.5" y1="93.84" x2="287.1" y2="93.84" stroke="#262626" stroke-width="1.0" stroke-linecap="butt"/>
<line x1="284.5" y1="57.06" x2="287.1" y2="57.06" stroke="#262626" stroke-width="1.0" stroke-linecap="butt"/>
<line x1="284.5" y1="20.28" x2="287.1" y2="20.28" stroke="#262626" stroke-width="1.0" stroke-linecap="butt"/>
<line x1="284.5" y1="149.01" x2="286" y2="149.01" stroke="#262626" stroke-width="1.0" stroke-linecap="butt"/>
<line x1="284.5" y1="112.23" x2="286" y2="112.23" stroke="#262626" stroke-width="1.0" stroke-linecap="butt"/>
<line x1="284.5" y1="75.45" x2="286" y2="75.45" stroke="#262626" stroke-width="1.0" stroke-linecap="butt"/>
<line x1="284.5" y1="38.67" x2="286" y2="38.67" stroke="#262626" stroke-width="1.0" stroke-linecap="butt"/>
<text x="289.9" y="183.7" font-size="8.6" text-anchor="middle" font-weight="bold" fill="#000" stroke="#000" stroke-width="0.25">0</text>
<text x="313.1" y="183.7" font-size="8.6" text-anchor="middle" font-weight="bold" fill="#000" stroke="#000" stroke-width="0.25">60</text>
<text x="336.3" y="183.7" font-size="8.6" text-anchor="middle" font-weight="bold" fill="#000" stroke="#000" stroke-width="0.25">120</text>
<text x="359.51" y="183.7" font-size="8.6" text-anchor="middle" font-weight="bold" fill="#000" stroke="#000" stroke-width="0.25">180</text>
<text x="382.71" y="183.7" font-size="8.6" text-anchor="middle" font-weight="bold" fill="#000" stroke="#000" stroke-width="0.25">240</text>
<text x="405.91" y="183.7" font-size="8.6" text-anchor="middle" font-weight="bold" fill="#000" stroke="#000" stroke-width="0.25">300</text>
<text x="429.11" y="183.7" font-size="8.6" text-anchor="middle" font-weight="bold" fill="#000" stroke="#000" stroke-width="0.25">360</text>
<text x="452.31" y="183.7" font-size="8.6" text-anchor="middle" font-weight="bold" fill="#000" stroke="#000" stroke-width="0.25">420</text>
<text x="475.52" y="183.7" font-size="8.6" text-anchor="middle" font-weight="bold" fill="#000" stroke="#000" stroke-width="0.25">480</text>
<text x="281.1" y="170.32" font-size="8.6" text-anchor="end" font-weight="bold" fill="#000" stroke="#000" stroke-width="0.25">0.0</text>
<text x="281.1" y="133.54" font-size="8.6" text-anchor="end" font-weight="bold" fill="#000" stroke="#000" stroke-width="0.25">0.3</text>
<text x="281.1" y="96.76" font-size="8.6" text-anchor="end" font-weight="bold" fill="#000" stroke="#000" stroke-width="0.25">0.6</text>
<text x="281.1" y="59.98" font-size="8.6" text-anchor="end" font-weight="bold" fill="#000" stroke="#000" stroke-width="0.25">0.9</text>
<text x="281.1" y="23.2" font-size="8.6" text-anchor="end" font-weight="bold" fill="#000" stroke="#000" stroke-width="0.25">1.2</text>
<text x="379.9" y="199.1" font-size="10" text-anchor="middle" font-weight="bold" fill="#000" stroke="#000" stroke-width="0.25">Time (min/g)</text>
<text x="264.5" y="96.9" font-size="10" text-anchor="middle" font-weight="bold" fill="#000" stroke="#000" stroke-width="0.25" transform="rotate(-90 264.5 96.9)">C/C<tspan font-size="6.6" dy="2.7">0</tspan><tspan dy="-2.7">​</tspan></text>
<text x="242.4" y="18.5" font-size="24" text-anchor="start" font-weight="bold" fill="#000" stroke="#000" stroke-width="0.3">(c)</text>
<text x="303.4" y="33.4" font-size="8" text-anchor="start" font-weight="bold" fill="#000" stroke="#000" stroke-width="0.25">Flow rate 10 mL/min</text>
<line x1="294.3" y1="130.6" x2="315" y2="130.6" stroke="#f5831f" stroke-width="1.0" stroke-linecap="butt"/>
<circle cx="304.65" cy="130.6" r="2.75" fill="#f5831f"/>
<text x="319" y="133.6" font-size="8.6" text-anchor="start" font-weight="bold" fill="#000" stroke="#000" stroke-width="0.25">C<tspan font-size="5.68" dy="2.32">2</tspan><tspan dy="-2.32">​</tspan>H<tspan font-size="5.68" dy="2.32">4</tspan><tspan dy="-2.32">​</tspan> (98%)</text>
<line x1="294.3" y1="143.9" x2="315" y2="143.9" stroke="#1b95ef" stroke-width="1.0" stroke-linecap="butt"/>
<circle cx="304.65" cy="143.9" r="2.75" fill="#1b95ef"/>
<text x="319" y="146.9" font-size="8.6" text-anchor="start" font-weight="bold" fill="#000" stroke="#000" stroke-width="0.25">C<tspan font-size="5.68" dy="2.32">2</tspan><tspan dy="-2.32">​</tspan>H<tspan font-size="5.68" dy="2.32">2</tspan><tspan dy="-2.32">​</tspan> (1%)</text>
<line x1="294.3" y1="156.7" x2="315" y2="156.7" stroke="#d4d4d4" stroke-width="1.0" stroke-linecap="butt"/>
<circle cx="304.65" cy="156.7" r="2.3" fill="#c6c6c6"/>
<text x="319" y="159.7" font-size="8.6" text-anchor="start" font-weight="bold" fill="#000" stroke="#000" stroke-width="0.25">CO<tspan font-size="5.68" dy="2.32">2</tspan><tspan dy="-2.32">​</tspan> (1%)</text>
<g clip-path="url(#cD)">
<polygon points="304.8,349.1 306.8,349.1 315.7,327.8 324.5,334.8 329.3,342.1 333.8,347.5 338.5,351.2 343.1,354.6 347.8,359.7 353.8,362.4 363.4,363.5 372.9,363.9 382.3,331.1 384.3,308.6 391.2,244.7 400.6,308.6 409.8,347.1 419.4,366 428.5,368.9 433.6,370 433.6,371.5 304.8,371.5" fill="#b7e2fb" stroke="none"/>
<polygon points="315.7,327.8 324.2,317.9 329.3,319 333.9,327.2 338.5,336 343.2,342.9 347.8,347.7 353.8,351.5 363.4,354.6 372.9,357.4 382.2,358.3 382.3,358.3 372.9,363.9 363.4,363.5 353.8,362.4 347.8,359.7 343.1,354.6 338.5,351.2 333.8,347.5 329.3,342.1 324.5,334.8 315.7,327.8" fill="#e8e8e8" stroke="none"/>
<rect x="382" y="307.3" width="21" height="2.6" fill="#fff"/>
<line x1="304.9" y1="326" x2="304.9" y2="345" stroke="#333" stroke-width="1.1" stroke-linecap="butt" stroke-dasharray="5.5,2.8"/>
<line x1="304.9" y1="345" x2="304.9" y2="373" stroke="#333" stroke-width="1.1" stroke-linecap="butt"/>
<line x1="371.6" y1="285" x2="371.6" y2="373" stroke="#333" stroke-width="1.1" stroke-linecap="butt" stroke-dasharray="6,5.4"/>
<line x1="432" y1="285" x2="432" y2="373" stroke="#000" stroke-width="1.25" stroke-linecap="butt" stroke-dasharray="6,5.4"/>
<polyline points="315.7,327.8 324.2,317.9 329.3,319 333.9,327.2 338.5,336 343.2,342.9 347.8,347.7 353.8,351.5 363.4,354.6 372.9,357.4 382.2,358.3 384.6,309.9" fill="none" stroke="#cdcdcd" stroke-width="1.0" stroke-linejoin="round"/>
<polyline points="385.5,307.3 391.2,271.8 396.9,307.3" fill="none" stroke="#cdcdcd" stroke-width="1.0" stroke-linejoin="round"/>
<polyline points="397.7,309.9 401,355.8 409.8,368.8 419.4,370 428.5,370.3" fill="none" stroke="#cdcdcd" stroke-width="1.0" stroke-linejoin="round"/>
<circle cx="324.2" cy="317.9" r="2.35" fill="#c6c6c6"/>
<circle cx="329.3" cy="319" r="2.35" fill="#c6c6c6"/>
<circle cx="333.9" cy="327.2" r="2.35" fill="#c6c6c6"/>
<circle cx="338.5" cy="336" r="2.35" fill="#c6c6c6"/>
<circle cx="343.2" cy="342.9" r="2.35" fill="#c6c6c6"/>
<circle cx="347.8" cy="347.7" r="2.35" fill="#c6c6c6"/>
<circle cx="353.8" cy="351.5" r="2.35" fill="#c6c6c6"/>
<circle cx="363.4" cy="354.6" r="2.35" fill="#c6c6c6"/>
<circle cx="372.9" cy="357.4" r="2.35" fill="#c6c6c6"/>
<circle cx="382.2" cy="358.3" r="2.35" fill="#c6c6c6"/>
<circle cx="391.2" cy="271.8" r="2.35" fill="#c6c6c6"/>
<circle cx="401" cy="355.8" r="2.35" fill="#c6c6c6"/>
<circle cx="409.8" cy="368.8" r="2.35" fill="#c6c6c6"/>
<circle cx="419.4" cy="370" r="2.35" fill="#c6c6c6"/>
<polyline points="306.8,349.1 315.7,342.2 324.5,354.3 329.3,366 333.8,367.9 338.5,368.7 343.1,369.4 347.8,370 353.8,370.2 363.4,370.5 372.9,370.5 382.2,370.5 391.5,370.5 401,370.5 409.8,370.5 419.4,370.5 428.5,370.5 437,370.3 442,370.3" fill="none" stroke="#f5831f" stroke-width="1.0" stroke-linejoin="round"/>
<circle cx="315.7" cy="342.2" r="2.75" fill="#f5831f"/>
<circle cx="324.5" cy="354.3" r="2.75" fill="#f5831f"/>
<circle cx="329.3" cy="366" r="2.75" fill="#f5831f"/>
<circle cx="333.8" cy="367.9" r="2.75" fill="#f5831f"/>
<circle cx="338.5" cy="368.7" r="2.75" fill="#f5831f"/>
<circle cx="343.1" cy="369.4" r="2.75" fill="#f5831f"/>
<circle cx="347.8" cy="370" r="2.75" fill="#f5831f"/>
<circle cx="353.8" cy="370.2" r="2.75" fill="#f5831f"/>
<circle cx="363.4" cy="370.5" r="2.75" fill="#f5831f"/>
<circle cx="372.9" cy="370.5" r="2.75" fill="#f5831f"/>
<circle cx="382.2" cy="370.5" r="2.75" fill="#f5831f"/>
<circle cx="391.5" cy="370.5" r="2.75" fill="#f5831f"/>
<circle cx="401" cy="370.5" r="2.75" fill="#f5831f"/>
<circle cx="409.8" cy="370.5" r="2.75" fill="#f5831f"/>
<circle cx="419.4" cy="370.5" r="2.75" fill="#f5831f"/>
<circle cx="428.5" cy="370.5" r="2.75" fill="#f5831f"/>
<circle cx="437" cy="370.3" r="2.75" fill="#f5831f"/>
<circle cx="442" cy="370.3" r="2.75" fill="#f5831f"/>
<polyline points="290,349.1 297.9,349.1 306.8,349.1 315.7,327.8 324.5,334.8 329.3,342.1 333.8,347.5 338.5,351.2 343.1,354.6 347.8,359.7 353.8,362.4 363.4,363.5 372.9,363.9 382.3,331.1 384.2,309.9" fill="none" stroke="#1b95ef" stroke-width="1.0" stroke-linejoin="round"/>
<polyline points="384.4,307.3 391.2,244.7 400.4,307.3" fill="none" stroke="#1b95ef" stroke-width="1.0" stroke-linejoin="round"/>
<polyline points="400.8,309.9 409.8,347.1 419.4,366 428.5,368.9 433.6,370 435.9,370 438.2,370 440.5,370 442.8,370 445.1,370 447.4,370 449.7,370 452,370 454.3,370 456.6,370 458.9,370 461.2,370 463.5,370 465.8,370 468.1,370 470.4,370 472.7,370 475,370 477.3,370 479.6,370" fill="none" stroke="#1b95ef" stroke-width="1.0" stroke-linejoin="round"/>
<circle cx="290" cy="349.1" r="2.75" fill="#1b95ef"/>
<circle cx="297.9" cy="349.1" r="2.75" fill="#1b95ef"/>
<circle cx="306.8" cy="349.1" r="2.75" fill="#1b95ef"/>
<circle cx="315.7" cy="327.8" r="2.75" fill="#1b95ef"/>
<circle cx="324.5" cy="334.8" r="2.75" fill="#1b95ef"/>
<circle cx="329.3" cy="342.1" r="2.75" fill="#1b95ef"/>
<circle cx="333.8" cy="347.5" r="2.75" fill="#1b95ef"/>
<circle cx="338.5" cy="351.2" r="2.75" fill="#1b95ef"/>
<circle cx="343.1" cy="354.6" r="2.75" fill="#1b95ef"/>
<circle cx="347.8" cy="359.7" r="2.75" fill="#1b95ef"/>
<circle cx="353.8" cy="362.4" r="2.75" fill="#1b95ef"/>
<circle cx="363.4" cy="363.5" r="2.75" fill="#1b95ef"/>
<circle cx="372.9" cy="363.9" r="2.75" fill="#1b95ef"/>
<circle cx="382.3" cy="331.1" r="2.75" fill="#1b95ef"/>
<circle cx="391.2" cy="244.7" r="2.75" fill="#1b95ef"/>
<circle cx="409.8" cy="347.1" r="2.75" fill="#1b95ef"/>
<circle cx="419.4" cy="366" r="2.75" fill="#1b95ef"/>
<circle cx="428.5" cy="368.9" r="2.75" fill="#1b95ef"/>
<circle cx="433.6" cy="370" r="2.75" fill="#1b95ef"/>
<circle cx="435.9" cy="370" r="2.75" fill="#1b95ef"/>
<circle cx="438.2" cy="370" r="2.75" fill="#1b95ef"/>
<circle cx="440.5" cy="370" r="2.75" fill="#1b95ef"/>
<circle cx="442.8" cy="370" r="2.75" fill="#1b95ef"/>
<circle cx="445.1" cy="370" r="2.75" fill="#1b95ef"/>
<circle cx="447.4" cy="370" r="2.75" fill="#1b95ef"/>
<circle cx="449.7" cy="370" r="2.75" fill="#1b95ef"/>
<circle cx="452" cy="370" r="2.75" fill="#1b95ef"/>
<circle cx="454.3" cy="370" r="2.75" fill="#1b95ef"/>
<circle cx="456.6" cy="370" r="2.75" fill="#1b95ef"/>
<circle cx="458.9" cy="370" r="2.75" fill="#1b95ef"/>
<circle cx="461.2" cy="370" r="2.75" fill="#1b95ef"/>
<circle cx="463.5" cy="370" r="2.75" fill="#1b95ef"/>
<circle cx="465.8" cy="370" r="2.75" fill="#1b95ef"/>
<circle cx="468.1" cy="370" r="2.75" fill="#1b95ef"/>
<circle cx="470.4" cy="370" r="2.75" fill="#1b95ef"/>
<circle cx="472.7" cy="370" r="2.75" fill="#1b95ef"/>
<circle cx="475" cy="370" r="2.75" fill="#1b95ef"/>
<circle cx="477.3" cy="370" r="2.75" fill="#1b95ef"/>
<circle cx="479.6" cy="370" r="2.75" fill="#1b95ef"/>
</g>
<line x1="289.5" y1="220.5" x2="480.5" y2="220.5" stroke="#262626" stroke-width="1.0" stroke-linecap="butt"/>
<line x1="289.5" y1="373.5" x2="480.5" y2="373.5" stroke="#262626" stroke-width="1.0" stroke-linecap="butt"/>
<line x1="289.5" y1="220" x2="289.5" y2="307.3" stroke="#262626" stroke-width="1.0" stroke-linecap="butt"/>
<line x1="289.5" y1="309.9" x2="289.5" y2="374" stroke="#262626" stroke-width="1.0" stroke-linecap="butt"/>
<line x1="480.5" y1="220" x2="480.5" y2="307.3" stroke="#262626" stroke-width="1.0" stroke-linecap="butt"/>
<line x1="480.5" y1="309.9" x2="480.5" y2="374" stroke="#262626" stroke-width="1.0" stroke-linecap="butt"/>
<rect x="286.5" y="307.4" width="6" height="2.4" fill="#fff"/>
<line x1="286.7" y1="308.6" x2="292.5" y2="306.4" stroke="#262626" stroke-width="0.9" stroke-linecap="butt"/>
<line x1="286.7" y1="311.2" x2="292.5" y2="309" stroke="#262626" stroke-width="0.9" stroke-linecap="butt"/>
<rect x="477.5" y="307.4" width="6" height="2.4" fill="#fff"/>
<line x1="477.7" y1="308.6" x2="483.5" y2="306.4" stroke="#262626" stroke-width="0.9" stroke-linecap="butt"/>
<line x1="477.7" y1="311.2" x2="483.5" y2="309" stroke="#262626" stroke-width="0.9" stroke-linecap="butt"/>
<line x1="300.6" y1="373.5" x2="300.6" y2="370.9" stroke="#262626" stroke-width="1.0" stroke-linecap="butt"/>
<line x1="345.45" y1="373.5" x2="345.45" y2="370.9" stroke="#262626" stroke-width="1.0" stroke-linecap="butt"/>
<line x1="390.3" y1="373.5" x2="390.3" y2="370.9" stroke="#262626" stroke-width="1.0" stroke-linecap="butt"/>
<line x1="435.15" y1="373.5" x2="435.15" y2="370.9" stroke="#262626" stroke-width="1.0" stroke-linecap="butt"/>
<line x1="480" y1="373.5" x2="480" y2="370.9" stroke="#262626" stroke-width="1.0" stroke-linecap="butt"/>
<line x1="323.03" y1="373.5" x2="323.03" y2="372" stroke="#262626" stroke-width="1.0" stroke-linecap="butt"/>
<line x1="367.88" y1="373.5" x2="367.88" y2="372" stroke="#262626" stroke-width="1.0" stroke-linecap="butt"/>
<line x1="412.73" y1="373.5" x2="412.73" y2="372" stroke="#262626" stroke-width="1.0" stroke-linecap="butt"/>
<line x1="457.58" y1="373.5" x2="457.58" y2="372" stroke="#262626" stroke-width="1.0" stroke-linecap="butt"/>
<line x1="289.5" y1="296.1" x2="292.1" y2="296.1" stroke="#262626" stroke-width="1.0" stroke-linecap="butt"/>
<line x1="289.5" y1="285.2" x2="292.1" y2="285.2" stroke="#262626" stroke-width="1.0" stroke-linecap="butt"/>
<line x1="289.5" y1="274.3" x2="292.1" y2="274.3" stroke="#262626" stroke-width="1.0" stroke-linecap="butt"/>
<line x1="289.5" y1="263.4" x2="292.1" y2="263.4" stroke="#262626" stroke-width="1.0" stroke-linecap="butt"/>
<line x1="289.5" y1="252.5" x2="292.1" y2="252.5" stroke="#262626" stroke-width="1.0" stroke-linecap="butt"/>
<line x1="289.5" y1="241.6" x2="292.1" y2="241.6" stroke="#262626" stroke-width="1.0" stroke-linecap="butt"/>
<line x1="289.5" y1="230.7" x2="292.1" y2="230.7" stroke="#262626" stroke-width="1.0" stroke-linecap="butt"/>
<line x1="289.5" y1="219.8" x2="292.1" y2="219.8" stroke="#262626" stroke-width="1.0" stroke-linecap="butt"/>
<line x1="289.5" y1="290.65" x2="291" y2="290.65" stroke="#262626" stroke-width="1.0" stroke-linecap="butt"/>
<line x1="289.5" y1="279.75" x2="291" y2="279.75" stroke="#262626" stroke-width="1.0" stroke-linecap="butt"/>
<line x1="289.5" y1="268.85" x2="291" y2="268.85" stroke="#262626" stroke-width="1.0" stroke-linecap="butt"/>
<line x1="289.5" y1="257.95" x2="291" y2="257.95" stroke="#262626" stroke-width="1.0" stroke-linecap="butt"/>
<line x1="289.5" y1="247.05" x2="291" y2="247.05" stroke="#262626" stroke-width="1.0" stroke-linecap="butt"/>
<line x1="289.5" y1="236.15" x2="291" y2="236.15" stroke="#262626" stroke-width="1.0" stroke-linecap="butt"/>
<line x1="289.5" y1="225.25" x2="291" y2="225.25" stroke="#262626" stroke-width="1.0" stroke-linecap="butt"/>
<line x1="289.5" y1="371" x2="292.1" y2="371" stroke="#262626" stroke-width="1.0" stroke-linecap="butt"/>
<line x1="289.5" y1="360.07" x2="292.1" y2="360.07" stroke="#262626" stroke-width="1.0" stroke-linecap="butt"/>
<line x1="289.5" y1="349.14" x2="292.1" y2="349.14" stroke="#262626" stroke-width="1.0" stroke-linecap="butt"/>
<line x1="289.5" y1="338.21" x2="292.1" y2="338.21" stroke="#262626" stroke-width="1.0" stroke-linecap="butt"/>
<line x1="289.5" y1="327.28" x2="292.1" y2="327.28" stroke="#262626" stroke-width="1.0" stroke-linecap="butt"/>
<line x1="289.5" y1="316.35" x2="292.1" y2="316.35" stroke="#262626" stroke-width="1.0" stroke-linecap="butt"/>
<line x1="289.5" y1="365.54" x2="291" y2="365.54" stroke="#262626" stroke-width="1.0" stroke-linecap="butt"/>
<line x1="289.5" y1="354.61" x2="291" y2="354.61" stroke="#262626" stroke-width="1.0" stroke-linecap="butt"/>
<line x1="289.5" y1="343.68" x2="291" y2="343.68" stroke="#262626" stroke-width="1.0" stroke-linecap="butt"/>
<line x1="289.5" y1="332.75" x2="291" y2="332.75" stroke="#262626" stroke-width="1.0" stroke-linecap="butt"/>
<line x1="289.5" y1="321.81" x2="291" y2="321.81" stroke="#262626" stroke-width="1.0" stroke-linecap="butt"/>
<line x1="289.5" y1="310.88" x2="291" y2="310.88" stroke="#262626" stroke-width="1.0" stroke-linecap="butt"/>
<text x="300.6" y="384" font-size="8.6" text-anchor="middle" font-weight="bold" fill="#000" stroke="#000" stroke-width="0.25">480</text>
<text x="345.45" y="384" font-size="8.6" text-anchor="middle" font-weight="bold" fill="#000" stroke="#000" stroke-width="0.25">500</text>
<text x="390.3" y="384" font-size="8.6" text-anchor="middle" font-weight="bold" fill="#000" stroke="#000" stroke-width="0.25">520</text>
<text x="435.15" y="384" font-size="8.6" text-anchor="middle" font-weight="bold" fill="#000" stroke="#000" stroke-width="0.25">540</text>
<text x="480" y="384" font-size="8.6" text-anchor="middle" font-weight="bold" fill="#000" stroke="#000" stroke-width="0.25">560</text>
<text x="286.3" y="299.02" font-size="8.6" text-anchor="end" font-weight="bold" fill="#000" stroke="#000" stroke-width="0.25">6.5</text>
<text x="286.3" y="288.12" font-size="8.6" text-anchor="end" font-weight="bold" fill="#000" stroke="#000" stroke-width="0.25">7.0</text>
<text x="286.3" y="277.22" font-size="8.6" text-anchor="end" font-weight="bold" fill="#000" stroke="#000" stroke-width="0.25">7.5</text>
<text x="286.3" y="266.32" font-size="8.6" text-anchor="end" font-weight="bold" fill="#000" stroke="#000" stroke-width="0.25">8.0</text>
<text x="286.3" y="255.42" font-size="8.6" text-anchor="end" font-weight="bold" fill="#000" stroke="#000" stroke-width="0.25">8.5</text>
<text x="286.3" y="244.52" font-size="8.6" text-anchor="end" font-weight="bold" fill="#000" stroke="#000" stroke-width="0.25">9.0</text>
<text x="286.3" y="233.62" font-size="8.6" text-anchor="end" font-weight="bold" fill="#000" stroke="#000" stroke-width="0.25">9.5</text>
<text x="286.3" y="222.72" font-size="8.6" text-anchor="end" font-weight="bold" fill="#000" stroke="#000" stroke-width="0.25">10.0</text>
<text x="286.3" y="373.92" font-size="8.6" text-anchor="end" font-weight="bold" fill="#000" stroke="#000" stroke-width="0.25">0.0</text>
<text x="286.3" y="362.99" font-size="8.6" text-anchor="end" font-weight="bold" fill="#000" stroke="#000" stroke-width="0.25">0.5</text>
<text x="286.3" y="352.06" font-size="8.6" text-anchor="end" font-weight="bold" fill="#000" stroke="#000" stroke-width="0.25">1.0</text>
<text x="286.3" y="341.13" font-size="8.6" text-anchor="end" font-weight="bold" fill="#000" stroke="#000" stroke-width="0.25">1.5</text>
<text x="286.3" y="330.2" font-size="8.6" text-anchor="end" font-weight="bold" fill="#000" stroke="#000" stroke-width="0.25">2.0</text>
<text x="286.3" y="319.27" font-size="8.6" text-anchor="end" font-weight="bold" fill="#000" stroke="#000" stroke-width="0.25">2.5</text>
<text x="384.9" y="399.3" font-size="10" text-anchor="middle" font-weight="bold" fill="#000" stroke="#000" stroke-width="0.25">Time (min/g)</text>
<text x="266" y="296.6" font-size="10" text-anchor="middle" font-weight="bold" fill="#000" stroke="#000" stroke-width="0.25" transform="rotate(-90 266 296.6)">C/C<tspan font-size="6.6" dy="2.7">0</tspan><tspan dy="-2.7">​</tspan></text>
<text x="237.6" y="215.9" font-size="24" text-anchor="start" font-weight="bold" fill="#000" stroke="#000" stroke-width="0.3">(d)</text>
<text x="299.7" y="233.8" font-size="8" text-anchor="start" font-weight="bold" fill="#000" stroke="#000" stroke-width="0.25">Purge Ar</text>
<text x="299.7" y="244" font-size="8" text-anchor="start" font-weight="bold" fill="#000" stroke="#000" stroke-width="0.25">Flow rate 10 mL/min</text>
<text x="344.5" y="291.1" font-size="7.5" text-anchor="middle" font-weight="bold" fill="#000" stroke="#000" stroke-width="0.25" transform="rotate(-45 344.5 291.1)">Purge at</text>
<text x="350.1" y="303.9" font-size="7.5" text-anchor="middle" font-weight="bold" fill="#000" stroke="#000" stroke-width="0.25" transform="rotate(-45 350.1 303.9)">298 K</text>
<text x="416" y="279.4" font-size="7.5" text-anchor="middle" font-weight="bold" fill="#000" stroke="#000" stroke-width="0.25" transform="rotate(-45 416 279.4)">Purge at</text>
<text x="422.4" y="290.7" font-size="7.5" text-anchor="middle" font-weight="bold" fill="#000" stroke="#000" stroke-width="0.25" transform="rotate(-45 422.4 290.7)">453 K</text>
<text x="459.5" y="280" font-size="7.5" text-anchor="middle" font-weight="bold" fill="#000" stroke="#000" stroke-width="0.25" transform="rotate(-45 459.5 280)">Purge at</text>
<text x="464.2" y="290.3" font-size="7.5" text-anchor="middle" font-weight="bold" fill="#000" stroke="#000" stroke-width="0.25" transform="rotate(-45 464.2 290.3)">573 K</text>
<line x1="438.3" y1="333.9" x2="458.7" y2="333.9" stroke="#f5831f" stroke-width="1.0" stroke-linecap="butt"/>
<circle cx="448.5" cy="333.9" r="2.75" fill="#f5831f"/>
<text x="460.5" y="336.9" font-size="8.6" text-anchor="start" font-weight="bold" fill="#000" stroke="#000" stroke-width="0.25">C<tspan font-size="5.68" dy="2.32">2</tspan><tspan dy="-2.32">​</tspan>H<tspan font-size="5.68" dy="2.32">4</tspan><tspan dy="-2.32">​</tspan></text>
<line x1="438.3" y1="346.5" x2="458.7" y2="346.5" stroke="#1b95ef" stroke-width="1.0" stroke-linecap="butt"/>
<circle cx="448.5" cy="346.5" r="2.75" fill="#1b95ef"/>
<text x="460.5" y="349.5" font-size="8.6" text-anchor="start" font-weight="bold" fill="#000" stroke="#000" stroke-width="0.25">C<tspan font-size="5.68" dy="2.32">2</tspan><tspan dy="-2.32">​</tspan>H<tspan font-size="5.68" dy="2.32">2</tspan><tspan dy="-2.32">​</tspan></text>
<line x1="438.3" y1="359.1" x2="458.7" y2="359.1" stroke="#d4d4d4" stroke-width="1.0" stroke-linecap="butt"/>
<circle cx="448.5" cy="359.1" r="2.3" fill="#c6c6c6"/>
<text x="460.5" y="362.1" font-size="8.6" text-anchor="start" font-weight="bold" fill="#000" stroke="#000" stroke-width="0.25">CO<tspan font-size="5.68" dy="2.32">2</tspan><tspan dy="-2.32">​</tspan></text>
<rect x="548.8" y="80.1" width="4.6" height="4.6" fill="#1e96f0"/>
<rect x="619.5" y="82.7" width="4.6" height="4.6" fill="#f2a263"/>
<rect x="619" y="104" width="4.6" height="4.6" fill="#1e96f0"/>
<rect x="551.7" y="118.6" width="4.6" height="4.6" fill="#1e96f0"/>
<rect x="591.9" y="113.8" width="4.6" height="4.6" fill="#f2a263"/>
<rect x="564.7" y="144.9" width="4.6" height="4.6" fill="#1e96f0"/>
<rect x="566.2" y="147" width="4.6" height="4.6" fill="#f2a263"/>
<rect x="596" y="137.7" width="4.6" height="4.6" fill="#1e96f0"/>
<rect x="554.3" y="160.1" width="4.6" height="4.6" fill="#1e96f0"/>
<rect x="641.6" y="56.1" width="4.6" height="4.6" fill="#1e96f0"/>
<rect x="641.6" y="59.1" width="4.6" height="4.6" fill="#f2a263"/>
<rect x="689.7" y="58.5" width="4.6" height="4.6" fill="#1e96f0"/>
<rect x="715.1" y="25.1" width="4.6" height="4.6" fill="#b068ee"/>
<polygon points="667.2,31.5 668.35,34.62 671.67,34.75 669.05,36.8 669.96,40 667.2,38.15 664.44,40 665.35,36.8 662.73,34.75 666.05,34.62" fill="#fa0c0c" stroke="none"/>
<text x="654" y="29.8" font-size="8" text-anchor="start" font-weight="bold" fill="#000" stroke="#000" stroke-width="0.25">K-MOR</text>
<text x="691.9" y="39.4" font-size="8" text-anchor="start" font-weight="bold" fill="#000" stroke="#000" stroke-width="0.25">Ni@FAU</text>
<text x="621.8" y="51" font-size="8" text-anchor="start" font-weight="bold" fill="#000" stroke="#000" stroke-width="0.25">SIFSIX-2-Cu-i</text>
<text x="636.3" y="71.2" font-size="8" text-anchor="start" font-weight="bold" fill="#000" stroke="#000" stroke-width="0.25">Na-X</text>
<text x="670.8" y="74.5" font-size="8" text-anchor="start" font-weight="bold" fill="#000" stroke="#000" stroke-width="0.25">NKMOF-1-Ni</text>
<text x="555.5" y="84.6" font-size="8" text-anchor="start" font-weight="bold" fill="#000" stroke="#000" stroke-width="0.25">UTSA-100a</text>
<text x="629.4" y="85.8" font-size="8" text-anchor="start" font-weight="bold" fill="#000" stroke="#000" stroke-width="0.25">K-X</text>
<text x="626.1" y="108.3" font-size="8" text-anchor="start" font-weight="bold" fill="#000" stroke="#000" stroke-width="0.25">Ni<tspan font-size="5.28" dy="2.16">3</tspan><tspan dy="-2.16">​</tspan>(pzdc)<tspan font-size="5.28" dy="2.16">2</tspan><tspan dy="-2.16">​</tspan>(7 Hade)<tspan font-size="5.28" dy="2.16">2</tspan><tspan dy="-2.16">​</tspan></text>
<text x="541.8" y="112.8" font-size="8" text-anchor="start" font-weight="bold" fill="#000" stroke="#000" stroke-width="0.25">Zn<tspan font-size="5.28" dy="2.16">2</tspan><tspan dy="-2.16">​</tspan>(bpy)(btec)</text>
<text x="599" y="118.3" font-size="8" text-anchor="start" font-weight="bold" fill="#000" stroke="#000" stroke-width="0.25">Li-X</text>
<text x="548.3" y="143.9" font-size="8" text-anchor="start" font-weight="bold" fill="#000" stroke="#000" stroke-width="0.25">NTU-65</text>
<text x="574" y="151.5" font-size="8" text-anchor="start" font-weight="bold" fill="#000" stroke="#000" stroke-width="0.25">Na-Y</text>
<text x="602.7" y="142.8" font-size="8" text-anchor="start" font-weight="bold" fill="#000" stroke="#000" stroke-width="0.25">SIFSIX-1-Cu</text>
<text x="560.9" y="164.6" font-size="8" text-anchor="start" font-weight="bold" fill="#000" stroke="#000" stroke-width="0.25">UiO-64-(NH<tspan font-size="5.28" dy="2.16">2</tspan><tspan dy="-2.16">​</tspan>)<tspan font-size="5.28" dy="2.16">2</tspan><tspan dy="-2.16">​</tspan></text>
<line x1="537.4" y1="20.5" x2="712.3" y2="20.5" stroke="#262626" stroke-width="1.0" stroke-linecap="butt"/>
<line x1="714.9" y1="20.5" x2="728.4" y2="20.5" stroke="#262626" stroke-width="1.0" stroke-linecap="butt"/>
<line x1="537.4" y1="173.5" x2="712.3" y2="173.5" stroke="#262626" stroke-width="1.0" stroke-linecap="butt"/>
<line x1="714.9" y1="173.5" x2="728.4" y2="173.5" stroke="#262626" stroke-width="1.0" stroke-linecap="butt"/>
<line x1="537.4" y1="20" x2="537.4" y2="29.9" stroke="#262626" stroke-width="1.0" stroke-linecap="butt"/>
<line x1="537.4" y1="32.5" x2="537.4" y2="174" stroke="#262626" stroke-width="1.0" stroke-linecap="butt"/>
<line x1="728.4" y1="20" x2="728.4" y2="29.9" stroke="#262626" stroke-width="1.0" stroke-linecap="butt"/>
<line x1="728.4" y1="32.5" x2="728.4" y2="174" stroke="#262626" stroke-width="1.0" stroke-linecap="butt"/>
<line x1="534.6" y1="31.2" x2="540.4" y2="29" stroke="#262626" stroke-width="0.9" stroke-linecap="butt"/>
<line x1="534.6" y1="33.8" x2="540.4" y2="31.6" stroke="#262626" stroke-width="0.9" stroke-linecap="butt"/>
<line x1="725.6" y1="31.2" x2="731.4" y2="29" stroke="#262626" stroke-width="0.9" stroke-linecap="butt"/>
<line x1="725.6" y1="33.8" x2="731.4" y2="31.6" stroke="#262626" stroke-width="0.9" stroke-linecap="butt"/>
<rect x="712.3" y="19.7" width="2.6" height="1.6" fill="#fff"/>
<line x1="710.2" y1="23.2" x2="714.2" y2="17.6" stroke="#262626" stroke-width="0.9" stroke-linecap="butt"/>
<line x1="712.9" y1="23.2" x2="716.9" y2="17.6" stroke="#262626" stroke-width="0.9" stroke-linecap="butt"/>
<rect x="712.3" y="172.7" width="2.6" height="1.6" fill="#fff"/>
<line x1="710.2" y1="176.2" x2="714.2" y2="170.6" stroke="#262626" stroke-width="0.9" stroke-linecap="butt"/>
<line x1="712.9" y1="176.2" x2="716.9" y2="170.6" stroke="#262626" stroke-width="0.9" stroke-linecap="butt"/>
<line x1="548.5" y1="173.5" x2="548.5" y2="170.9" stroke="#262626" stroke-width="1.0" stroke-linecap="butt"/>
<line x1="574.62" y1="173.5" x2="574.62" y2="170.9" stroke="#262626" stroke-width="1.0" stroke-linecap="butt"/>
<line x1="600.74" y1="173.5" x2="600.74" y2="170.9" stroke="#262626" stroke-width="1.0" stroke-linecap="butt"/>
<line x1="626.86" y1="173.5" x2="626.86" y2="170.9" stroke="#262626" stroke-width="1.0" stroke-linecap="butt"/>
<line x1="652.98" y1="173.5" x2="652.98" y2="170.9" stroke="#262626" stroke-width="1.0" stroke-linecap="butt"/>
<line x1="679.1" y1="173.5" x2="679.1" y2="170.9" stroke="#262626" stroke-width="1.0" stroke-linecap="butt"/>
<line x1="705.22" y1="173.5" x2="705.22" y2="170.9" stroke="#262626" stroke-width="1.0" stroke-linecap="butt"/>
<line x1="561.56" y1="173.5" x2="561.56" y2="172" stroke="#262626" stroke-width="1.0" stroke-linecap="butt"/>
<line x1="587.68" y1="173.5" x2="587.68" y2="172" stroke="#262626" stroke-width="1.0" stroke-linecap="butt"/>
<line x1="613.8" y1="173.5" x2="613.8" y2="172" stroke="#262626" stroke-width="1.0" stroke-linecap="butt"/>
<line x1="639.92" y1="173.5" x2="639.92" y2="172" stroke="#262626" stroke-width="1.0" stroke-linecap="butt"/>
<line x1="666.04" y1="173.5" x2="666.04" y2="172" stroke="#262626" stroke-width="1.0" stroke-linecap="butt"/>
<line x1="692.16" y1="173.5" x2="692.16" y2="172" stroke="#262626" stroke-width="1.0" stroke-linecap="butt"/>
<line x1="537.4" y1="166.3" x2="540" y2="166.3" stroke="#262626" stroke-width="1.0" stroke-linecap="butt"/>
<line x1="537.4" y1="142.3" x2="540" y2="142.3" stroke="#262626" stroke-width="1.0" stroke-linecap="butt"/>
<line x1="537.4" y1="118.3" x2="540" y2="118.3" stroke="#262626" stroke-width="1.0" stroke-linecap="butt"/>
<line x1="537.4" y1="94.3" x2="540" y2="94.3" stroke="#262626" stroke-width="1.0" stroke-linecap="butt"/>
<line x1="537.4" y1="70.3" x2="540" y2="70.3" stroke="#262626" stroke-width="1.0" stroke-linecap="butt"/>
<line x1="537.4" y1="46.3" x2="540" y2="46.3" stroke="#262626" stroke-width="1.0" stroke-linecap="butt"/>
<line x1="537.4" y1="154.3" x2="538.9" y2="154.3" stroke="#262626" stroke-width="1.0" stroke-linecap="butt"/>
<line x1="537.4" y1="130.3" x2="538.9" y2="130.3" stroke="#262626" stroke-width="1.0" stroke-linecap="butt"/>
<line x1="537.4" y1="106.3" x2="538.9" y2="106.3" stroke="#262626" stroke-width="1.0" stroke-linecap="butt"/>
<line x1="537.4" y1="82.3" x2="538.9" y2="82.3" stroke="#262626" stroke-width="1.0" stroke-linecap="butt"/>
<line x1="537.4" y1="58.3" x2="538.9" y2="58.3" stroke="#262626" stroke-width="1.0" stroke-linecap="butt"/>
<text x="548.5" y="184.6" font-size="10" text-anchor="middle" font-weight="bold" fill="#000" stroke="#000" stroke-width="0.25">0</text>
<text x="574.62" y="184.6" font-size="10" text-anchor="middle" font-weight="bold" fill="#000" stroke="#000" stroke-width="0.25">0.2</text>
<text x="600.74" y="184.6" font-size="10" text-anchor="middle" font-weight="bold" fill="#000" stroke="#000" stroke-width="0.25">0.4</text>
<text x="626.86" y="184.6" font-size="10" text-anchor="middle" font-weight="bold" fill="#000" stroke="#000" stroke-width="0.25">0.6</text>
<text x="652.98" y="184.6" font-size="10" text-anchor="middle" font-weight="bold" fill="#000" stroke="#000" stroke-width="0.25">0.8</text>
<text x="679.1" y="184.6" font-size="10" text-anchor="middle" font-weight="bold" fill="#000" stroke="#000" stroke-width="0.25">1</text>
<text x="705.22" y="184.6" font-size="10" text-anchor="middle" font-weight="bold" fill="#000" stroke="#000" stroke-width="0.25">1.2</text>
<text x="727.8" y="184.6" font-size="10" text-anchor="middle" font-weight="bold" fill="#000" stroke="#000" stroke-width="0.25">1.8</text>
<text x="533.6" y="169.7" font-size="10" text-anchor="end" font-weight="bold" fill="#000" stroke="#000" stroke-width="0.25">0</text>
<text x="533.6" y="145.7" font-size="10" text-anchor="end" font-weight="bold" fill="#000" stroke="#000" stroke-width="0.25">10</text>
<text x="533.6" y="121.7" font-size="10" text-anchor="end" font-weight="bold" fill="#000" stroke="#000" stroke-width="0.25">20</text>
<text x="533.6" y="97.7" font-size="10" text-anchor="end" font-weight="bold" fill="#000" stroke="#000" stroke-width="0.25">30</text>
<text x="533.6" y="73.7" font-size="10" text-anchor="end" font-weight="bold" fill="#000" stroke="#000" stroke-width="0.25">40</text>
<text x="533.6" y="49.7" font-size="10" text-anchor="end" font-weight="bold" fill="#000" stroke="#000" stroke-width="0.25">50</text>
<text x="533.6" y="23.7" font-size="10" text-anchor="end" font-weight="bold" fill="#000" stroke="#000" stroke-width="0.25">100</text>
<text x="632.8" y="201.5" font-size="10.3" text-anchor="middle" font-weight="bold" fill="#000" stroke="#000" stroke-width="0.25">C<tspan font-size="6.8" dy="2.78">2</tspan><tspan dy="-2.78">​</tspan>H<tspan font-size="6.8" dy="2.78">2</tspan><tspan dy="-2.78">​</tspan> dynamic uptake (mmol/g)</text>
<text x="513.6" y="97.8" font-size="10.3" text-anchor="middle" font-weight="bold" fill="#000" stroke="#000" stroke-width="0.25" transform="rotate(-90 513.6 97.8)">Selectivity (C<tspan font-size="6.8" dy="2.78">2</tspan><tspan dy="-2.78">​</tspan>H<tspan font-size="6.8" dy="2.78">2</tspan><tspan dy="-2.78">​</tspan>/C<tspan font-size="6.8" dy="2.78">2</tspan><tspan dy="-2.78">​</tspan>H<tspan font-size="6.8" dy="2.78">4</tspan><tspan dy="-2.78">​</tspan>)</text>
<text x="490.8" y="18.1" font-size="24" text-anchor="start" font-weight="bold" fill="#000" stroke="#000" stroke-width="0.3">(e)</text>
<g clip-path="url(#cF)">
<polyline points="544.6,368.8 545.9,315.2 547.6,269.89 549.05,270.26 550.5,269.31 551.95,270.04 553.4,269.4 554.85,270.28 556.3,270.18 557.75,268.78 559.2,268.84 560.65,268.99 562.1,270.34 563.55,269.39 565,269.73 566.45,269.14 567.9,269.51 569.35,269.29 570.8,269.23 572.25,269.65 573.7,269.65 575.15,270.23 576.6,269.83 578.05,270.27 579.5,270.14 580.95,270.38 582.4,269.81 583.85,268.89 585.3,270.15" fill="none" stroke="#f5831f" stroke-width="1.0" stroke-linejoin="round"/>
<circle cx="545.9" cy="315.2" r="2.5" fill="#f5831f"/>
<circle cx="547.6" cy="269.89" r="2.5" fill="#f5831f"/>
<circle cx="549.05" cy="270.26" r="2.5" fill="#f5831f"/>
<circle cx="550.5" cy="269.31" r="2.5" fill="#f5831f"/>
<circle cx="551.95" cy="270.04" r="2.5" fill="#f5831f"/>
<circle cx="553.4" cy="269.4" r="2.5" fill="#f5831f"/>
<circle cx="554.85" cy="270.28" r="2.5" fill="#f5831f"/>
<circle cx="556.3" cy="270.18" r="2.5" fill="#f5831f"/>
<circle cx="557.75" cy="268.78" r="2.5" fill="#f5831f"/>
<circle cx="559.2" cy="268.84" r="2.5" fill="#f5831f"/>
<circle cx="560.65" cy="268.99" r="2.5" fill="#f5831f"/>
<circle cx="562.1" cy="270.34" r="2.5" fill="#f5831f"/>
<circle cx="563.55" cy="269.39" r="2.5" fill="#f5831f"/>
<circle cx="565" cy="269.73" r="2.5" fill="#f5831f"/>
<circle cx="566.45" cy="269.14" r="2.5" fill="#f5831f"/>
<circle cx="567.9" cy="269.51" r="2.5" fill="#f5831f"/>
<circle cx="569.35" cy="269.29" r="2.5" fill="#f5831f"/>
<circle cx="570.8" cy="269.23" r="2.5" fill="#f5831f"/>
<circle cx="572.25" cy="269.65" r="2.5" fill="#f5831f"/>
<circle cx="573.7" cy="269.65" r="2.5" fill="#f5831f"/>
<circle cx="575.15" cy="270.23" r="2.5" fill="#f5831f"/>
<circle cx="576.6" cy="269.83" r="2.5" fill="#f5831f"/>
<circle cx="578.05" cy="270.27" r="2.5" fill="#f5831f"/>
<circle cx="579.5" cy="270.14" r="2.5" fill="#f5831f"/>
<circle cx="580.95" cy="270.38" r="2.5" fill="#f5831f"/>
<circle cx="582.4" cy="269.81" r="2.5" fill="#f5831f"/>
<circle cx="583.85" cy="268.89" r="2.5" fill="#f5831f"/>
<circle cx="585.3" cy="270.15" r="2.5" fill="#f5831f"/>
<polyline points="569.5,368.6 572,367 573.6,364.6 575.3,357.5 577.5,345 579.2,332.4 580.6,318.2 582.6,304.2 584.3,291.5 585.7,284.3 587.4,278.7 588.4,274.7 590,271.5" fill="none" stroke="#cdcdcd" stroke-width="1.0" stroke-linejoin="round"/>
<circle cx="572" cy="367" r="2.35" fill="#c6c6c6"/>
<circle cx="573.6" cy="364.6" r="2.35" fill="#c6c6c6"/>
<circle cx="575.3" cy="357.5" r="2.35" fill="#c6c6c6"/>
<circle cx="577.5" cy="345" r="2.35" fill="#c6c6c6"/>
<circle cx="579.2" cy="332.4" r="2.35" fill="#c6c6c6"/>
<circle cx="580.6" cy="318.2" r="2.35" fill="#c6c6c6"/>
<circle cx="582.6" cy="304.2" r="2.35" fill="#c6c6c6"/>
<circle cx="584.3" cy="291.5" r="2.35" fill="#c6c6c6"/>
<circle cx="585.7" cy="284.3" r="2.35" fill="#c6c6c6"/>
<circle cx="587.4" cy="278.7" r="2.35" fill="#c6c6c6"/>
<circle cx="588.4" cy="274.7" r="2.35" fill="#c6c6c6"/>
<circle cx="590" cy="271.5" r="2.35" fill="#c6c6c6"/>
<polyline points="546.2,368.6 547.6,368.6 549,368.6 550.4,368.6 551.8,368.6 553.2,368.6 554.6,368.6 556,368.6 557.4,368.6 558.8,368.6 560.2,368.6 561.6,368.6 563,368.6 564.4,368.6 565.8,368.6 567.2,368.6 569.4,353.7 570.7,347.2 572.2,338 573.7,328.7 575,319.4 576.4,311.1 577.8,301.7 579.6,288.3 581,281.9 582,263.5 584.3,252.5 586.9,263.9 589.3,269.5 589.3,269.5 590.7,269.5 592.1,269.5 593.5,269.5 594.9,269.5 596.3,269.5 597.7,269.5 599.1,269.5 600.5,269.5" fill="none" stroke="#1b95ef" stroke-width="1.0" stroke-linejoin="round"/>
<circle cx="546.2" cy="368.6" r="2.75" fill="#1b95ef"/>
<circle cx="547.6" cy="368.6" r="2.75" fill="#1b95ef"/>
<circle cx="549" cy="368.6" r="2.75" fill="#1b95ef"/>
<circle cx="550.4" cy="368.6" r="2.75" fill="#1b95ef"/>
<circle cx="551.8" cy="368.6" r="2.75" fill="#1b95ef"/>
<circle cx="553.2" cy="368.6" r="2.75" fill="#1b95ef"/>
<circle cx="554.6" cy="368.6" r="2.75" fill="#1b95ef"/>
<circle cx="556" cy="368.6" r="2.75" fill="#1b95ef"/>
<circle cx="557.4" cy="368.6" r="2.75" fill="#1b95ef"/>
<circle cx="558.8" cy="368.6" r="2.75" fill="#1b95ef"/>
<circle cx="560.2" cy="368.6" r="2.75" fill="#1b95ef"/>
<circle cx="561.6" cy="368.6" r="2.75" fill="#1b95ef"/>
<circle cx="563" cy="368.6" r="2.75" fill="#1b95ef"/>
<circle cx="564.4" cy="368.6" r="2.75" fill="#1b95ef"/>
<circle cx="565.8" cy="368.6" r="2.75" fill="#1b95ef"/>
<circle cx="567.2" cy="368.6" r="2.75" fill="#1b95ef"/>
<circle cx="569.4" cy="353.7" r="2.75" fill="#1b95ef"/>
<circle cx="570.7" cy="347.2" r="2.75" fill="#1b95ef"/>
<circle cx="572.2" cy="338" r="2.75" fill="#1b95ef"/>
<circle cx="573.7" cy="328.7" r="2.75" fill="#1b95ef"/>
<circle cx="575" cy="319.4" r="2.75" fill="#1b95ef"/>
<circle cx="576.4" cy="311.1" r="2.75" fill="#1b95ef"/>
<circle cx="577.8" cy="301.7" r="2.75" fill="#1b95ef"/>
<circle cx="579.6" cy="288.3" r="2.75" fill="#1b95ef"/>
<circle cx="581" cy="281.9" r="2.75" fill="#1b95ef"/>
<circle cx="582" cy="263.5" r="2.75" fill="#1b95ef"/>
<circle cx="584.3" cy="252.5" r="2.75" fill="#1b95ef"/>
<circle cx="586.9" cy="263.9" r="2.75" fill="#1b95ef"/>
<circle cx="583.6" cy="262.6" r="2.75" fill="#1b95ef"/>
<circle cx="589.3" cy="269.5" r="2.75" fill="#1b95ef"/>
<circle cx="590.7" cy="269.5" r="2.75" fill="#1b95ef"/>
<circle cx="592.1" cy="269.5" r="2.75" fill="#1b95ef"/>
<circle cx="593.5" cy="269.5" r="2.75" fill="#1b95ef"/>
<circle cx="594.9" cy="269.5" r="2.75" fill="#1b95ef"/>
<circle cx="596.3" cy="269.5" r="2.75" fill="#1b95ef"/>
<circle cx="597.7" cy="269.5" r="2.75" fill="#1b95ef"/>
<circle cx="599.1" cy="269.5" r="2.75" fill="#1b95ef"/>
<circle cx="600.5" cy="269.5" r="2.75" fill="#1b95ef"/>
<polyline points="605.75,368.8 607.05,283.8 608.75,270.34 610.2,270.23 611.65,269.62 613.1,269.88 614.55,268.98 616,270.1 617.45,269.63 618.9,269.11 620.35,268.71 621.8,270.14 623.25,270.38 624.7,268.76 626.15,270.04 627.6,269.34 629.05,268.87 630.5,269.13 631.95,269.98 633.4,270.17 634.85,268.68 636.3,269.71 637.75,268.68 639.2,269.89 640.65,269.2 642.1,270.19 643.55,270.37 645,269.51 646.45,270.4" fill="none" stroke="#f5831f" stroke-width="1.0" stroke-linejoin="round"/>
<circle cx="607.05" cy="283.8" r="2.5" fill="#f5831f"/>
<circle cx="608.75" cy="270.34" r="2.5" fill="#f5831f"/>
<circle cx="610.2" cy="270.23" r="2.5" fill="#f5831f"/>
<circle cx="611.65" cy="269.62" r="2.5" fill="#f5831f"/>
<circle cx="613.1" cy="269.88" r="2.5" fill="#f5831f"/>
<circle cx="614.55" cy="268.98" r="2.5" fill="#f5831f"/>
<circle cx="616" cy="270.1" r="2.5" fill="#f5831f"/>
<circle cx="617.45" cy="269.63" r="2.5" fill="#f5831f"/>
<circle cx="618.9" cy="269.11" r="2.5" fill="#f5831f"/>
<circle cx="620.35" cy="268.71" r="2.5" fill="#f5831f"/>
<circle cx="621.8" cy="270.14" r="2.5" fill="#f5831f"/>
<circle cx="623.25" cy="270.38" r="2.5" fill="#f5831f"/>
<circle cx="624.7" cy="268.76" r="2.5" fill="#f5831f"/>
<circle cx="626.15" cy="270.04" r="2.5" fill="#f5831f"/>
<circle cx="627.6" cy="269.34" r="2.5" fill="#f5831f"/>
<circle cx="629.05" cy="268.87" r="2.5" fill="#f5831f"/>
<circle cx="630.5" cy="269.13" r="2.5" fill="#f5831f"/>
<circle cx="631.95" cy="269.98" r="2.5" fill="#f5831f"/>
<circle cx="633.4" cy="270.17" r="2.5" fill="#f5831f"/>
<circle cx="634.85" cy="268.68" r="2.5" fill="#f5831f"/>
<circle cx="636.3" cy="269.71" r="2.5" fill="#f5831f"/>
<circle cx="637.75" cy="268.68" r="2.5" fill="#f5831f"/>
<circle cx="639.2" cy="269.89" r="2.5" fill="#f5831f"/>
<circle cx="640.65" cy="269.2" r="2.5" fill="#f5831f"/>
<circle cx="642.1" cy="270.19" r="2.5" fill="#f5831f"/>
<circle cx="643.55" cy="270.37" r="2.5" fill="#f5831f"/>
<circle cx="645" cy="269.51" r="2.5" fill="#f5831f"/>
<circle cx="646.45" cy="270.4" r="2.5" fill="#f5831f"/>
<polyline points="630.65,368.6 633.15,367 634.75,364.6 636.45,357.5 638.65,345 640.35,332.4 641.75,318.2 643.75,304.2 645.45,291.5 646.85,284.3 648.55,278.7 649.55,274.7 651.15,271.5" fill="none" stroke="#cdcdcd" stroke-width="1.0" stroke-linejoin="round"/>
<circle cx="633.15" cy="367" r="2.35" fill="#c6c6c6"/>
<circle cx="634.75" cy="364.6" r="2.35" fill="#c6c6c6"/>
<circle cx="636.45" cy="357.5" r="2.35" fill="#c6c6c6"/>
<circle cx="638.65" cy="345" r="2.35" fill="#c6c6c6"/>
<circle cx="640.35" cy="332.4" r="2.35" fill="#c6c6c6"/>
<circle cx="641.75" cy="318.2" r="2.35" fill="#c6c6c6"/>
<circle cx="643.75" cy="304.2" r="2.35" fill="#c6c6c6"/>
<circle cx="645.45" cy="291.5" r="2.35" fill="#c6c6c6"/>
<circle cx="646.85" cy="284.3" r="2.35" fill="#c6c6c6"/>
<circle cx="648.55" cy="278.7" r="2.35" fill="#c6c6c6"/>
<circle cx="649.55" cy="274.7" r="2.35" fill="#c6c6c6"/>
<circle cx="651.15" cy="271.5" r="2.35" fill="#c6c6c6"/>
<polyline points="607.35,368.6 608.75,368.6 610.15,368.6 611.55,368.6 612.95,368.6 614.35,368.6 615.75,368.6 617.15,368.6 618.55,368.6 619.95,368.6 621.35,368.6 622.75,368.6 624.15,368.6 625.55,368.6 626.95,368.6 628.35,368.6 630.55,353.7 631.85,347.2 633.35,338 634.85,328.7 636.15,319.4 637.55,311.1 638.95,301.7 640.75,288.3 642.15,281.9 643.15,263.5 645.45,252.5 648.05,263.9 650.45,269.5 650.45,269.5 651.85,269.5 653.25,269.5 654.65,269.5 656.05,269.5 657.45,269.5 658.85,269.5 660.25,269.5 661.65,269.5" fill="none" stroke="#1b95ef" stroke-width="1.0" stroke-linejoin="round"/>
<circle cx="607.35" cy="368.6" r="2.75" fill="#1b95ef"/>
<circle cx="608.75" cy="368.6" r="2.75" fill="#1b95ef"/>
<circle cx="610.15" cy="368.6" r="2.75" fill="#1b95ef"/>
<circle cx="611.55" cy="368.6" r="2.75" fill="#1b95ef"/>
<circle cx="612.95" cy="368.6" r="2.75" fill="#1b95ef"/>
<circle cx="614.35" cy="368.6" r="2.75" fill="#1b95ef"/>
<circle cx="615.75" cy="368.6" r="2.75" fill="#1b95ef"/>
<circle cx="617.15" cy="368.6" r="2.75" fill="#1b95ef"/>
<circle cx="618.55" cy="368.6" r="2.75" fill="#1b95ef"/>
<circle cx="619.95" cy="368.6" r="2.75" fill="#1b95ef"/>
<circle cx="621.35" cy="368.6" r="2.75" fill="#1b95ef"/>
<circle cx="622.75" cy="368.6" r="2.75" fill="#1b95ef"/>
<circle cx="624.15" cy="368.6" r="2.75" fill="#1b95ef"/>
<circle cx="625.55" cy="368.6" r="2.75" fill="#1b95ef"/>
<circle cx="626.95" cy="368.6" r="2.75" fill="#1b95ef"/>
<circle cx="628.35" cy="368.6" r="2.75" fill="#1b95ef"/>
<circle cx="630.55" cy="353.7" r="2.75" fill="#1b95ef"/>
<circle cx="631.85" cy="347.2" r="2.75" fill="#1b95ef"/>
<circle cx="633.35" cy="338" r="2.75" fill="#1b95ef"/>
<circle cx="634.85" cy="328.7" r="2.75" fill="#1b95ef"/>
<circle cx="636.15" cy="319.4" r="2.75" fill="#1b95ef"/>
<circle cx="637.55" cy="311.1" r="2.75" fill="#1b95ef"/>
<circle cx="638.95" cy="301.7" r="2.75" fill="#1b95ef"/>
<circle cx="640.75" cy="288.3" r="2.75" fill="#1b95ef"/>
<circle cx="642.15" cy="281.9" r="2.75" fill="#1b95ef"/>
<circle cx="643.15" cy="263.5" r="2.75" fill="#1b95ef"/>
<circle cx="645.45" cy="252.5" r="2.75" fill="#1b95ef"/>
<circle cx="648.05" cy="263.9" r="2.75" fill="#1b95ef"/>
<circle cx="644.75" cy="262.6" r="2.75" fill="#1b95ef"/>
<circle cx="650.45" cy="269.5" r="2.75" fill="#1b95ef"/>
<circle cx="651.85" cy="269.5" r="2.75" fill="#1b95ef"/>
<circle cx="653.25" cy="269.5" r="2.75" fill="#1b95ef"/>
<circle cx="654.65" cy="269.5" r="2.75" fill="#1b95ef"/>
<circle cx="656.05" cy="269.5" r="2.75" fill="#1b95ef"/>
<circle cx="657.45" cy="269.5" r="2.75" fill="#1b95ef"/>
<circle cx="658.85" cy="269.5" r="2.75" fill="#1b95ef"/>
<circle cx="660.25" cy="269.5" r="2.75" fill="#1b95ef"/>
<circle cx="661.65" cy="269.5" r="2.75" fill="#1b95ef"/>
<polyline points="666.9,368.8 668.2,292 669.9,269.16 671.35,268.74 672.8,269.68 674.25,268.66 675.7,268.96 677.15,269.33 678.6,269.7 680.05,268.88 681.5,268.68 682.95,270.16 684.4,269.16 685.85,270.33 687.3,270.21 688.75,269.28 690.2,269.43 691.65,269.54 693.1,269.76 694.55,269.67 696,269.61 697.45,269.72 698.9,270.29 700.35,269.51 701.8,269.38 703.25,269.9 704.7,269.03 706.15,269.14 707.6,270.36" fill="none" stroke="#f5831f" stroke-width="1.0" stroke-linejoin="round"/>
<circle cx="668.2" cy="292" r="2.5" fill="#f5831f"/>
<circle cx="669.9" cy="269.16" r="2.5" fill="#f5831f"/>
<circle cx="671.35" cy="268.74" r="2.5" fill="#f5831f"/>
<circle cx="672.8" cy="269.68" r="2.5" fill="#f5831f"/>
<circle cx="674.25" cy="268.66" r="2.5" fill="#f5831f"/>
<circle cx="675.7" cy="268.96" r="2.5" fill="#f5831f"/>
<circle cx="677.15" cy="269.33" r="2.5" fill="#f5831f"/>
<circle cx="678.6" cy="269.7" r="2.5" fill="#f5831f"/>
<circle cx="680.05" cy="268.88" r="2.5" fill="#f5831f"/>
<circle cx="681.5" cy="268.68" r="2.5" fill="#f5831f"/>
<circle cx="682.95" cy="270.16" r="2.5" fill="#f5831f"/>
<circle cx="684.4" cy="269.16" r="2.5" fill="#f5831f"/>
<circle cx="685.85" cy="270.33" r="2.5" fill="#f5831f"/>
<circle cx="687.3" cy="270.21" r="2.5" fill="#f5831f"/>
<circle cx="688.75" cy="269.28" r="2.5" fill="#f5831f"/>
<circle cx="690.2" cy="269.43" r="2.5" fill="#f5831f"/>
<circle cx="691.65" cy="269.54" r="2.5" fill="#f5831f"/>
<circle cx="693.1" cy="269.76" r="2.5" fill="#f5831f"/>
<circle cx="694.55" cy="269.67" r="2.5" fill="#f5831f"/>
<circle cx="696" cy="269.61" r="2.5" fill="#f5831f"/>
<circle cx="697.45" cy="269.72" r="2.5" fill="#f5831f"/>
<circle cx="698.9" cy="270.29" r="2.5" fill="#f5831f"/>
<circle cx="700.35" cy="269.51" r="2.5" fill="#f5831f"/>
<circle cx="701.8" cy="269.38" r="2.5" fill="#f5831f"/>
<circle cx="703.25" cy="269.9" r="2.5" fill="#f5831f"/>
<circle cx="704.7" cy="269.03" r="2.5" fill="#f5831f"/>
<circle cx="706.15" cy="269.14" r="2.5" fill="#f5831f"/>
<circle cx="707.6" cy="270.36" r="2.5" fill="#f5831f"/>
<polyline points="691.8,368.6 694.3,367 695.9,364.6 697.6,357.5 699.8,345 701.5,332.4 702.9,318.2 704.9,304.2 706.6,291.5 708,284.3 709.7,278.7 710.7,274.7 712.3,271.5" fill="none" stroke="#cdcdcd" stroke-width="1.0" stroke-linejoin="round"/>
<circle cx="694.3" cy="367" r="2.35" fill="#c6c6c6"/>
<circle cx="695.9" cy="364.6" r="2.35" fill="#c6c6c6"/>
<circle cx="697.6" cy="357.5" r="2.35" fill="#c6c6c6"/>
<circle cx="699.8" cy="345" r="2.35" fill="#c6c6c6"/>
<circle cx="701.5" cy="332.4" r="2.35" fill="#c6c6c6"/>
<circle cx="702.9" cy="318.2" r="2.35" fill="#c6c6c6"/>
<circle cx="704.9" cy="304.2" r="2.35" fill="#c6c6c6"/>
<circle cx="706.6" cy="291.5" r="2.35" fill="#c6c6c6"/>
<circle cx="708" cy="284.3" r="2.35" fill="#c6c6c6"/>
<circle cx="709.7" cy="278.7" r="2.35" fill="#c6c6c6"/>
<circle cx="710.7" cy="274.7" r="2.35" fill="#c6c6c6"/>
<circle cx="712.3" cy="271.5" r="2.35" fill="#c6c6c6"/>
<polyline points="668.5,368.6 669.9,368.6 671.3,368.6 672.7,368.6 674.1,368.6 675.5,368.6 676.9,368.6 678.3,368.6 679.7,368.6 681.1,368.6 682.5,368.6 683.9,368.6 685.3,368.6 686.7,368.6 688.1,368.6 689.5,368.6 691.7,353.7 693,347.2 694.5,338 696,328.7 697.3,319.4 698.7,311.1 700.1,301.7 701.9,288.3 703.3,281.9 704.3,263.5 706.6,252.5 709.2,263.9 711.6,269.5 711.6,269.5 713,269.5 714.4,269.5 715.8,269.5 717.2,269.5 718.6,269.5 720,269.5 721.4,269.5 722.8,269.5" fill="none" stroke="#1b95ef" stroke-width="1.0" stroke-linejoin="round"/>
<circle cx="668.5" cy="368.6" r="2.75" fill="#1b95ef"/>
<circle cx="669.9" cy="368.6" r="2.75" fill="#1b95ef"/>
<circle cx="671.3" cy="368.6" r="2.75" fill="#1b95ef"/>
<circle cx="672.7" cy="368.6" r="2.75" fill="#1b95ef"/>
<circle cx="674.1" cy="368.6" r="2.75" fill="#1b95ef"/>
<circle cx="675.5" cy="368.6" r="2.75" fill="#1b95ef"/>
<circle cx="676.9" cy="368.6" r="2.75" fill="#1b95ef"/>
<circle cx="678.3" cy="368.6" r="2.75" fill="#1b95ef"/>
<circle cx="679.7" cy="368.6" r="2.75" fill="#1b95ef"/>
<circle cx="681.1" cy="368.6" r="2.75" fill="#1b95ef"/>
<circle cx="682.5" cy="368.6" r="2.75" fill="#1b95ef"/>
<circle cx="683.9" cy="368.6" r="2.75" fill="#1b95ef"/>
<circle cx="685.3" cy="368.6" r="2.75" fill="#1b95ef"/>
<circle cx="686.7" cy="368.6" r="2.75" fill="#1b95ef"/>
<circle cx="688.1" cy="368.6" r="2.75" fill="#1b95ef"/>
<circle cx="689.5" cy="368.6" r="2.75" fill="#1b95ef"/>
<circle cx="691.7" cy="353.7" r="2.75" fill="#1b95ef"/>
<circle cx="693" cy="347.2" r="2.75" fill="#1b95ef"/>
<circle cx="694.5" cy="338" r="2.75" fill="#1b95ef"/>
<circle cx="696" cy="328.7" r="2.75" fill="#1b95ef"/>
<circle cx="697.3" cy="319.4" r="2.75" fill="#1b95ef"/>
<circle cx="698.7" cy="311.1" r="2.75" fill="#1b95ef"/>
<circle cx="700.1" cy="301.7" r="2.75" fill="#1b95ef"/>
<circle cx="701.9" cy="288.3" r="2.75" fill="#1b95ef"/>
<circle cx="703.3" cy="281.9" r="2.75" fill="#1b95ef"/>
<circle cx="704.3" cy="263.5" r="2.75" fill="#1b95ef"/>
<circle cx="706.6" cy="252.5" r="2.75" fill="#1b95ef"/>
<circle cx="709.2" cy="263.9" r="2.75" fill="#1b95ef"/>
<circle cx="705.9" cy="262.6" r="2.75" fill="#1b95ef"/>
<circle cx="711.6" cy="269.5" r="2.75" fill="#1b95ef"/>
<circle cx="713" cy="269.5" r="2.75" fill="#1b95ef"/>
<circle cx="714.4" cy="269.5" r="2.75" fill="#1b95ef"/>
<circle cx="715.8" cy="269.5" r="2.75" fill="#1b95ef"/>
<circle cx="717.2" cy="269.5" r="2.75" fill="#1b95ef"/>
<circle cx="718.6" cy="269.5" r="2.75" fill="#1b95ef"/>
<circle cx="720" cy="269.5" r="2.75" fill="#1b95ef"/>
<circle cx="721.4" cy="269.5" r="2.75" fill="#1b95ef"/>
<circle cx="722.8" cy="269.5" r="2.75" fill="#1b95ef"/>
</g>
<line x1="537.5" y1="220.5" x2="728.5" y2="220.5" stroke="#262626" stroke-width="1.0" stroke-linecap="butt"/>
<line x1="537.5" y1="373.5" x2="728.5" y2="373.5" stroke="#262626" stroke-width="1.0" stroke-linecap="butt"/>
<line x1="537.5" y1="220" x2="537.5" y2="374" stroke="#262626" stroke-width="1.0" stroke-linecap="butt"/>
<line x1="728.5" y1="220" x2="728.5" y2="374" stroke="#262626" stroke-width="1.0" stroke-linecap="butt"/>
<line x1="544.8" y1="373.5" x2="544.8" y2="370.9" stroke="#262626" stroke-width="1.0" stroke-linecap="butt"/>
<line x1="575.3" y1="373.5" x2="575.3" y2="370.9" stroke="#262626" stroke-width="1.0" stroke-linecap="butt"/>
<line x1="605.8" y1="373.5" x2="605.8" y2="370.9" stroke="#262626" stroke-width="1.0" stroke-linecap="butt"/>
<line x1="636.3" y1="373.5" x2="636.3" y2="370.9" stroke="#262626" stroke-width="1.0" stroke-linecap="butt"/>
<line x1="666.8" y1="373.5" x2="666.8" y2="370.9" stroke="#262626" stroke-width="1.0" stroke-linecap="butt"/>
<line x1="697.3" y1="373.5" x2="697.3" y2="370.9" stroke="#262626" stroke-width="1.0" stroke-linecap="butt"/>
<line x1="727.8" y1="373.5" x2="727.8" y2="370.9" stroke="#262626" stroke-width="1.0" stroke-linecap="butt"/>
<line x1="560.05" y1="373.5" x2="560.05" y2="372" stroke="#262626" stroke-width="1.0" stroke-linecap="butt"/>
<line x1="590.55" y1="373.5" x2="590.55" y2="372" stroke="#262626" stroke-width="1.0" stroke-linecap="butt"/>
<line x1="621.05" y1="373.5" x2="621.05" y2="372" stroke="#262626" stroke-width="1.0" stroke-linecap="butt"/>
<line x1="651.55" y1="373.5" x2="651.55" y2="372" stroke="#262626" stroke-width="1.0" stroke-linecap="butt"/>
<line x1="682.05" y1="373.5" x2="682.05" y2="372" stroke="#262626" stroke-width="1.0" stroke-linecap="butt"/>
<line x1="712.55" y1="373.5" x2="712.55" y2="372" stroke="#262626" stroke-width="1.0" stroke-linecap="butt"/>
<line x1="537.5" y1="368.8" x2="540.1" y2="368.8" stroke="#262626" stroke-width="1.0" stroke-linecap="butt"/>
<line x1="537.5" y1="339.13" x2="540.1" y2="339.13" stroke="#262626" stroke-width="1.0" stroke-linecap="butt"/>
<line x1="537.5" y1="309.46" x2="540.1" y2="309.46" stroke="#262626" stroke-width="1.0" stroke-linecap="butt"/>
<line x1="537.5" y1="279.79" x2="540.1" y2="279.79" stroke="#262626" stroke-width="1.0" stroke-linecap="butt"/>
<line x1="537.5" y1="250.12" x2="540.1" y2="250.12" stroke="#262626" stroke-width="1.0" stroke-linecap="butt"/>
<line x1="537.5" y1="220.45" x2="540.1" y2="220.45" stroke="#262626" stroke-width="1.0" stroke-linecap="butt"/>
<line x1="537.5" y1="353.97" x2="539" y2="353.97" stroke="#262626" stroke-width="1.0" stroke-linecap="butt"/>
<line x1="537.5" y1="324.3" x2="539" y2="324.3" stroke="#262626" stroke-width="1.0" stroke-linecap="butt"/>
<line x1="537.5" y1="294.62" x2="539" y2="294.62" stroke="#262626" stroke-width="1.0" stroke-linecap="butt"/>
<line x1="537.5" y1="264.96" x2="539" y2="264.96" stroke="#262626" stroke-width="1.0" stroke-linecap="butt"/>
<line x1="537.5" y1="235.29" x2="539" y2="235.29" stroke="#262626" stroke-width="1.0" stroke-linecap="butt"/>
<text x="544.8" y="384" font-size="8.6" text-anchor="middle" font-weight="bold" fill="#000" stroke="#000" stroke-width="0.25">0</text>
<text x="575.3" y="384" font-size="8.6" text-anchor="middle" font-weight="bold" fill="#000" stroke="#000" stroke-width="0.25">40</text>
<text x="605.8" y="384" font-size="8.6" text-anchor="middle" font-weight="bold" fill="#000" stroke="#000" stroke-width="0.25">80</text>
<text x="636.3" y="384" font-size="8.6" text-anchor="middle" font-weight="bold" fill="#000" stroke="#000" stroke-width="0.25">120</text>
<text x="666.8" y="384" font-size="8.6" text-anchor="middle" font-weight="bold" fill="#000" stroke="#000" stroke-width="0.25">160</text>
<text x="697.3" y="384" font-size="8.6" text-anchor="middle" font-weight="bold" fill="#000" stroke="#000" stroke-width="0.25">200</text>
<text x="727.8" y="384" font-size="8.6" text-anchor="middle" font-weight="bold" fill="#000" stroke="#000" stroke-width="0.25">240</text>
<text x="533.4" y="371.72" font-size="8.6" text-anchor="end" font-weight="bold" fill="#000" stroke="#000" stroke-width="0.25">0.0</text>
<text x="533.4" y="342.05" font-size="8.6" text-anchor="end" font-weight="bold" fill="#000" stroke="#000" stroke-width="0.25">0.3</text>
<text x="533.4" y="312.38" font-size="8.6" text-anchor="end" font-weight="bold" fill="#000" stroke="#000" stroke-width="0.25">0.6</text>
<text x="533.4" y="282.71" font-size="8.6" text-anchor="end" font-weight="bold" fill="#000" stroke="#000" stroke-width="0.25">0.9</text>
<text x="533.4" y="253.04" font-size="8.6" text-anchor="end" font-weight="bold" fill="#000" stroke="#000" stroke-width="0.25">1.2</text>
<text x="533.4" y="223.37" font-size="8.6" text-anchor="end" font-weight="bold" fill="#000" stroke="#000" stroke-width="0.25">1.5</text>
<text x="632.9" y="399.3" font-size="10" text-anchor="middle" font-weight="bold" fill="#000" stroke="#000" stroke-width="0.25">Time (min/g)</text>
<text x="517.3" y="297" font-size="10" text-anchor="middle" font-weight="bold" fill="#000" stroke="#000" stroke-width="0.25" transform="rotate(-90 517.3 297)">C/C<tspan font-size="6.6" dy="2.7">0</tspan><tspan dy="-2.7">​</tspan></text>
<text x="492.4" y="215.6" font-size="24" text-anchor="start" font-weight="bold" fill="#000" stroke="#000" stroke-width="0.3">(f)</text>
<text x="542.5" y="230.2" font-size="8.7" text-anchor="start" font-weight="bold" fill="#000" stroke="#000" stroke-width="0.25">Flow rate 50 mL/min (RH=11.5%)</text>
<line x1="542.2" y1="240.7" x2="560.3" y2="240.7" stroke="#f5831f" stroke-width="1.0" stroke-linecap="butt"/>
<circle cx="551.25" cy="240.7" r="2.75" fill="#f5831f"/>
<text x="564" y="243.7" font-size="8.2" text-anchor="start" font-weight="bold" fill="#000" stroke="#000" stroke-width="0.25">C<tspan font-size="5.41" dy="2.21">2</tspan><tspan dy="-2.21">​</tspan>H<tspan font-size="5.41" dy="2.21">4</tspan><tspan dy="-2.21">​</tspan> (98%)</text>
<line x1="606.3" y1="240.7" x2="625" y2="240.7" stroke="#1b95ef" stroke-width="1.0" stroke-linecap="butt"/>
<circle cx="615.65" cy="240.7" r="2.75" fill="#1b95ef"/>
<text x="628.9" y="243.7" font-size="8.2" text-anchor="start" font-weight="bold" fill="#000" stroke="#000" stroke-width="0.25">C<tspan font-size="5.41" dy="2.21">2</tspan><tspan dy="-2.21">​</tspan>H<tspan font-size="5.41" dy="2.21">2</tspan><tspan dy="-2.21">​</tspan> (1%)</text>
<line x1="667.4" y1="240.7" x2="685.7" y2="240.7" stroke="#d4d4d4" stroke-width="1.0" stroke-linecap="butt"/>
<circle cx="676.55" cy="240.7" r="2.3" fill="#c6c6c6"/>
<text x="689.8" y="243.7" font-size="8.2" text-anchor="start" font-weight="bold" fill="#000" stroke="#000" stroke-width="0.25">CO<tspan font-size="5.41" dy="2.21">2</tspan><tspan dy="-2.21">​</tspan> (1%)</text>
</svg>
</body></html>
